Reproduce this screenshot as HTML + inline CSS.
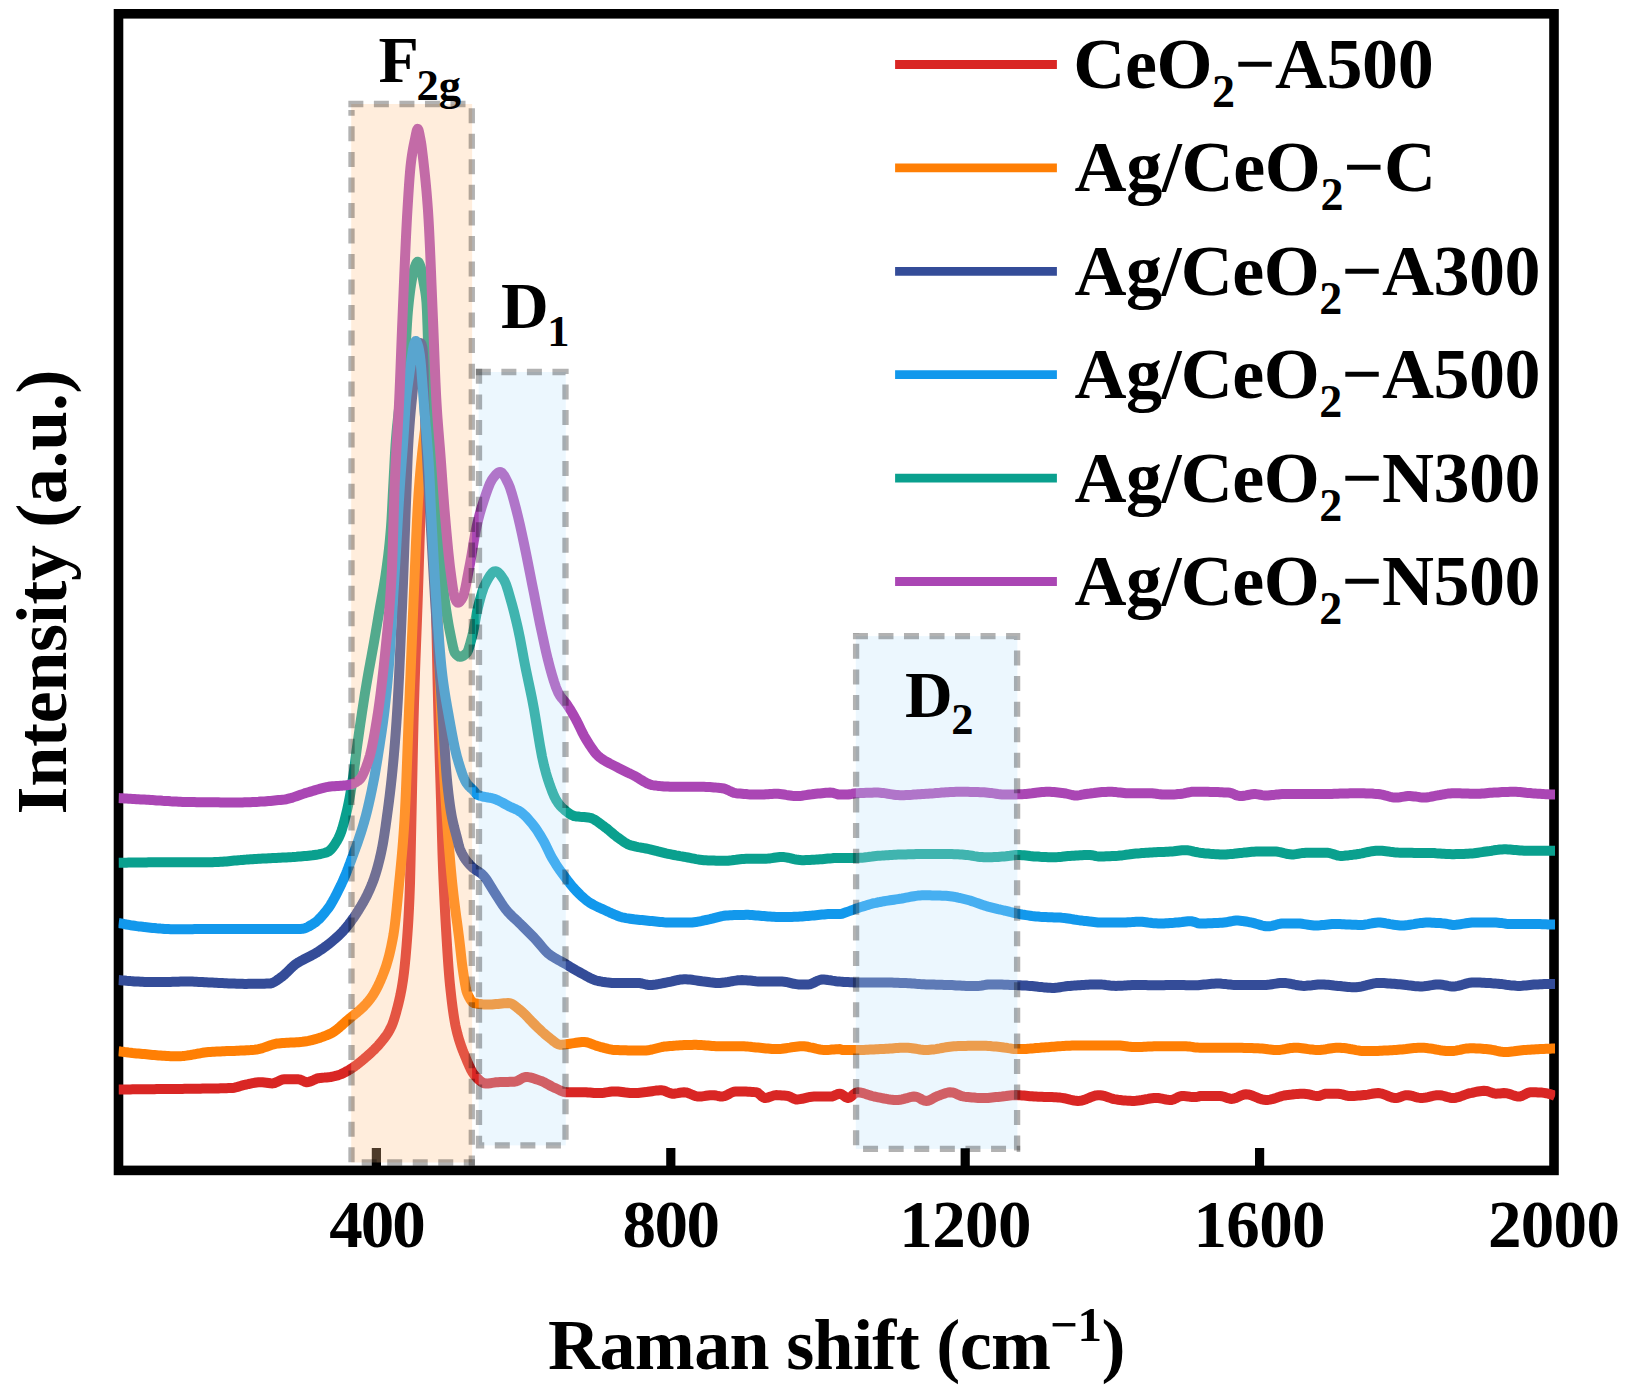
<!DOCTYPE html>
<html lang="en"><head><meta charset="utf-8"><title>Raman spectra</title>
<style>
html,body{margin:0;padding:0;background:#fff;}
body{width:1631px;height:1391px;overflow:hidden;}
svg{display:block;}
text{font-family:"Liberation Serif",serif;font-weight:bold;fill:#000;}
.t{font-size:67px;}
.l{font-size:72px;}
.a{font-size:66px;}
.s{font-size:46px;}
.sa{font-size:44.5px;}
.su{font-size:49px;}
</style></head><body>
<svg width="1631" height="1391" viewBox="0 0 1631 1391">
<rect x="0" y="0" width="1631" height="1391" fill="#fff"/>
<defs><clipPath id="ax"><rect x="118.5" y="13.8" width="1436.7" height="1156.6000000000001"/></clipPath></defs>
<rect x="118.5" y="13.8" width="1435.5" height="1156.6000000000001" fill="none" stroke="#000" stroke-width="9.6" stroke-linejoin="miter"/>
<line x1="376.4" y1="1170.4" x2="376.4" y2="1148" stroke="#000" stroke-width="9.2"/>
<line x1="670.8" y1="1170.4" x2="670.8" y2="1148" stroke="#000" stroke-width="9.2"/>
<line x1="965.2" y1="1170.4" x2="965.2" y2="1148" stroke="#000" stroke-width="9.2"/>
<line x1="1259.6" y1="1170.4" x2="1259.6" y2="1148" stroke="#000" stroke-width="9.2"/>
<g clip-path="url(#ax)" fill="none" stroke-linejoin="round" stroke-linecap="butt">
<path d="M118.5 1089.4 L120.5 1089.4 L122.5 1089.4 L124.5 1089.4 L126.5 1089.4 L128.5 1089.4 L130.5 1089.4 L132.5 1089.3 L134.5 1089.3 L136.5 1089.3 L138.5 1089.3 L140.5 1089.3 L142.5 1089.3 L144.5 1089.3 L146.5 1089.2 L148.5 1089.2 L150.5 1089.2 L152.5 1089.2 L154.5 1089.2 L156.5 1089.1 L158.5 1089.1 L160.5 1089.1 L162.5 1089.1 L164.5 1089.1 L166.5 1089.0 L168.5 1089.0 L170.5 1089.0 L172.5 1089.0 L174.5 1089.0 L176.5 1088.9 L178.5 1088.9 L180.5 1088.9 L182.5 1088.9 L184.5 1088.8 L186.5 1088.8 L188.5 1088.8 L190.5 1088.8 L192.5 1088.7 L194.5 1088.7 L196.5 1088.7 L198.5 1088.7 L200.5 1088.7 L202.5 1088.6 L204.5 1088.6 L206.5 1088.6 L208.5 1088.6 L210.5 1088.5 L212.5 1088.5 L214.5 1088.5 L216.5 1088.4 L218.5 1088.4 L220.5 1088.3 L222.5 1088.3 L224.5 1088.2 L226.5 1088.2 L228.5 1088.1 L230.5 1088.0 L232.5 1087.9 L234.5 1087.7 L236.5 1087.2 L238.5 1086.6 L240.5 1086.0 L242.5 1085.4 L244.5 1084.9 L246.5 1084.5 L248.5 1084.0 L250.5 1083.6 L252.5 1083.2 L254.5 1082.8 L256.5 1082.5 L258.5 1082.3 L260.5 1082.2 L262.5 1082.3 L264.5 1082.5 L266.5 1082.7 L268.5 1083.0 L270.5 1083.3 L272.5 1083.4 L274.5 1083.0 L276.5 1082.2 L278.5 1081.2 L280.5 1080.2 L282.5 1079.5 L284.5 1079.3 L286.5 1079.3 L288.5 1079.3 L290.5 1079.3 L292.5 1079.3 L294.5 1079.3 L296.5 1079.3 L298.5 1079.3 L300.5 1079.7 L302.5 1080.6 L304.5 1081.6 L306.5 1082.2 L308.5 1082.0 L310.5 1081.4 L312.5 1080.6 L314.5 1079.6 L316.5 1078.7 L318.5 1078.2 L320.5 1077.9 L322.5 1077.7 L324.5 1077.6 L326.5 1077.4 L328.5 1077.2 L330.5 1077.0 L332.5 1076.6 L334.5 1076.2 L336.5 1075.7 L338.5 1075.1 L340.5 1074.4 L341.0 1074.2 L341.5 1074.0 L342.0 1073.7 L342.5 1073.5 L343.0 1073.3 L343.5 1073.0 L344.0 1072.8 L344.5 1072.5 L345.0 1072.2 L345.5 1072.0 L346.0 1071.7 L346.5 1071.4 L347.0 1071.1 L347.5 1070.8 L348.0 1070.6 L348.5 1070.3 L349.0 1070.0 L349.5 1069.7 L350.0 1069.4 L350.5 1069.1 L351.0 1068.8 L351.5 1068.4 L352.0 1068.1 L352.5 1067.8 L353.0 1067.5 L353.5 1067.1 L354.0 1066.8 L354.5 1066.4 L355.0 1066.1 L355.5 1065.7 L356.0 1065.3 L356.5 1065.0 L357.0 1064.6 L357.5 1064.2 L358.0 1063.8 L358.5 1063.4 L359.0 1063.0 L359.5 1062.6 L360.0 1062.2 L360.5 1061.8 L361.0 1061.4 L361.5 1061.0 L362.0 1060.6 L362.5 1060.2 L363.0 1059.7 L363.5 1059.3 L364.0 1058.9 L364.5 1058.5 L365.0 1058.0 L365.5 1057.6 L366.0 1057.2 L366.5 1056.7 L367.0 1056.3 L367.5 1055.9 L368.0 1055.4 L368.5 1055.0 L369.0 1054.5 L369.5 1054.1 L370.0 1053.6 L370.5 1053.2 L371.0 1052.7 L371.5 1052.3 L372.0 1051.8 L372.5 1051.3 L373.0 1050.8 L373.5 1050.3 L374.0 1049.9 L374.5 1049.4 L375.0 1048.9 L375.5 1048.3 L376.0 1047.8 L376.5 1047.3 L377.0 1046.8 L377.5 1046.2 L378.0 1045.7 L378.5 1045.1 L379.0 1044.6 L379.5 1044.0 L380.0 1043.4 L380.5 1042.8 L381.0 1042.2 L381.5 1041.6 L382.0 1041.0 L382.5 1040.4 L383.0 1039.8 L383.5 1039.1 L384.0 1038.5 L384.5 1037.8 L385.0 1037.2 L385.5 1036.5 L386.0 1035.8 L386.5 1035.1 L387.0 1034.3 L387.5 1033.6 L388.0 1032.8 L388.5 1032.0 L389.0 1031.1 L389.5 1030.2 L390.0 1029.3 L390.5 1028.3 L391.0 1027.3 L391.5 1026.3 L392.0 1025.1 L392.5 1023.9 L393.0 1022.5 L393.5 1021.1 L394.0 1019.6 L394.5 1018.0 L395.0 1016.3 L395.5 1014.6 L396.0 1012.8 L396.5 1011.0 L397.0 1009.1 L397.5 1007.2 L398.0 1005.2 L398.5 1003.2 L399.0 1001.1 L399.5 999.0 L400.0 996.7 L400.5 994.4 L401.0 991.8 L401.5 989.2 L402.0 986.3 L402.5 983.3 L403.0 980.0 L403.5 976.4 L404.0 972.4 L404.5 968.0 L405.0 963.1 L405.5 957.9 L406.0 952.3 L406.5 946.3 L407.0 939.9 L407.5 933.2 L408.0 925.8 L408.5 917.6 L409.0 908.0 L409.5 896.9 L410.0 883.4 L410.5 863.0 L411.0 838.8 L411.5 815.5 L412.0 792.0 L412.5 767.6 L413.0 743.8 L413.5 722.1 L414.0 703.7 L414.5 687.4 L415.0 672.5 L415.5 658.5 L416.0 645.2 L416.5 632.2 L417.0 619.1 L417.5 605.6 L418.0 591.2 L418.5 575.8 L419.0 559.8 L419.5 543.8 L420.0 528.3 L420.5 514.0 L421.0 501.3 L421.5 490.8 L422.0 482.3 L422.5 474.5 L423.0 467.7 L423.5 462.1 L424.0 458.0 L424.5 454.7 L425.0 451.7 L425.5 449.0 L426.0 446.9 L426.5 445.5 L427.0 445.0 L427.5 445.5 L428.0 446.9 L428.5 449.1 L429.0 451.7 L429.5 454.8 L430.0 458.0 L430.5 461.9 L431.0 467.0 L431.5 473.2 L432.0 480.6 L432.5 489.0 L433.0 499.9 L433.5 514.1 L434.0 531.0 L434.5 549.8 L435.0 569.8 L435.5 590.1 L436.0 610.0 L436.5 630.9 L437.0 653.7 L437.5 676.8 L438.0 698.8 L438.5 718.1 L439.0 735.6 L439.5 751.9 L440.0 767.7 L440.5 783.6 L441.0 800.0 L441.5 817.8 L442.0 836.2 L442.5 853.3 L443.0 867.2 L443.5 879.5 L444.0 890.7 L444.5 901.1 L445.0 910.7 L445.5 919.8 L446.0 928.4 L446.5 936.9 L447.0 945.0 L447.5 952.9 L448.0 960.4 L448.5 967.4 L449.0 973.9 L449.5 979.8 L450.0 985.0 L450.5 989.8 L451.0 994.3 L451.5 998.7 L452.0 1002.8 L452.5 1006.8 L453.0 1010.5 L453.5 1014.0 L454.0 1017.2 L454.5 1020.3 L455.0 1023.1 L455.5 1025.7 L456.0 1028.0 L456.5 1030.2 L457.0 1032.2 L457.5 1034.2 L458.0 1036.0 L458.5 1037.8 L459.0 1039.5 L459.5 1041.2 L460.0 1042.7 L460.5 1044.2 L461.0 1045.7 L461.5 1047.1 L462.0 1048.4 L462.5 1049.8 L463.0 1051.0 L463.5 1052.3 L464.0 1053.5 L464.5 1054.7 L465.0 1056.0 L465.5 1057.2 L466.0 1058.4 L466.5 1059.6 L467.0 1060.8 L467.5 1062.0 L468.0 1063.1 L468.5 1064.3 L469.0 1065.4 L469.5 1066.6 L470.0 1067.6 L470.5 1068.7 L471.0 1069.7 L471.5 1070.6 L472.0 1071.6 L472.5 1072.4 L473.0 1073.2 L473.5 1073.9 L474.0 1074.6 L474.5 1075.1 L475.0 1075.7 L475.5 1076.3 L476.0 1076.8 L476.5 1077.4 L477.0 1077.9 L477.5 1078.4 L478.0 1078.9 L478.5 1079.4 L479.0 1079.9 L479.5 1080.4 L480.0 1080.8 L482.0 1082.3 L484.0 1083.3 L486.0 1083.6 L488.0 1083.5 L490.0 1083.3 L492.0 1082.9 L494.0 1082.6 L496.0 1082.3 L498.0 1082.2 L500.0 1082.1 L502.0 1082.0 L504.0 1082.0 L506.0 1081.9 L508.0 1081.9 L510.0 1081.8 L512.0 1081.8 L514.0 1081.7 L516.0 1081.4 L518.0 1080.6 L520.0 1079.5 L522.0 1078.3 L524.0 1077.4 L526.0 1077.0 L528.0 1077.1 L530.0 1077.4 L532.0 1077.9 L534.0 1078.5 L536.0 1079.2 L538.0 1079.9 L540.0 1080.6 L542.0 1081.3 L544.0 1082.2 L546.0 1083.3 L548.0 1084.4 L550.0 1085.5 L552.0 1086.6 L554.0 1087.6 L556.0 1088.4 L558.0 1089.4 L560.0 1090.4 L562.0 1091.3 L564.0 1091.9 L566.0 1092.3 L568.0 1092.3 L570.0 1092.3 L572.0 1092.3 L574.0 1092.3 L576.0 1092.3 L578.0 1092.3 L580.0 1092.3 L582.0 1092.3 L584.0 1092.3 L586.0 1092.3 L588.0 1092.5 L590.0 1092.6 L592.0 1092.8 L594.0 1093.0 L596.0 1093.1 L598.0 1093.1 L600.0 1093.1 L602.0 1092.9 L604.0 1092.7 L606.0 1092.4 L608.0 1092.1 L610.0 1091.8 L612.0 1091.6 L614.0 1091.4 L616.0 1091.4 L618.0 1091.5 L620.0 1091.7 L622.0 1092.0 L624.0 1092.3 L626.0 1092.6 L628.0 1092.8 L630.0 1093.0 L632.0 1093.1 L634.0 1093.1 L636.0 1093.0 L638.0 1092.9 L640.0 1092.7 L642.0 1092.5 L644.0 1092.3 L646.0 1092.1 L648.0 1091.8 L650.0 1091.5 L652.0 1091.2 L654.0 1090.9 L656.0 1090.6 L658.0 1090.4 L660.0 1090.3 L662.0 1090.3 L664.0 1090.7 L666.0 1091.5 L668.0 1092.4 L670.0 1093.2 L672.0 1093.7 L674.0 1093.7 L676.0 1093.4 L678.0 1093.1 L680.0 1092.7 L682.0 1092.4 L684.0 1092.3 L686.0 1092.4 L688.0 1093.0 L690.0 1093.8 L692.0 1094.7 L694.0 1095.5 L696.0 1096.2 L698.0 1096.6 L700.0 1096.5 L702.0 1096.4 L704.0 1096.1 L706.0 1095.8 L708.0 1095.5 L710.0 1095.3 L712.0 1095.2 L714.0 1095.2 L716.0 1095.5 L718.0 1096.0 L720.0 1096.4 L722.0 1096.6 L724.0 1096.2 L726.0 1095.5 L728.0 1094.5 L730.0 1093.4 L732.0 1092.4 L734.0 1091.7 L736.0 1091.4 L738.0 1091.4 L740.0 1091.4 L742.0 1091.5 L744.0 1091.5 L746.0 1091.6 L748.0 1091.7 L750.0 1091.8 L752.0 1091.9 L754.0 1092.1 L756.0 1092.2 L758.0 1093.0 L760.0 1094.7 L762.0 1096.6 L764.0 1097.9 L766.0 1097.9 L768.0 1097.5 L770.0 1096.8 L772.0 1096.1 L774.0 1095.4 L776.0 1095.1 L778.0 1095.2 L780.0 1095.2 L782.0 1095.4 L784.0 1095.6 L786.0 1095.8 L788.0 1096.0 L790.0 1096.7 L792.0 1097.8 L794.0 1098.8 L796.0 1099.4 L798.0 1099.4 L800.0 1099.1 L802.0 1098.8 L804.0 1098.3 L806.0 1097.8 L808.0 1097.3 L810.0 1096.9 L812.0 1096.7 L814.0 1096.6 L816.0 1096.6 L818.0 1096.6 L820.0 1096.6 L822.0 1096.6 L824.0 1096.6 L826.0 1096.6 L828.0 1096.6 L830.0 1096.6 L832.0 1096.5 L834.0 1095.8 L836.0 1094.8 L838.0 1094.0 L840.0 1093.7 L842.0 1094.5 L844.0 1095.9 L846.0 1097.3 L848.0 1098.0 L850.0 1097.4 L852.0 1095.8 L854.0 1094.0 L856.0 1092.6 L858.0 1092.3 L860.0 1092.5 L862.0 1092.9 L864.0 1093.4 L866.0 1094.1 L868.0 1094.7 L870.0 1095.4 L872.0 1096.0 L874.0 1096.5 L876.0 1096.9 L878.0 1097.3 L880.0 1097.7 L882.0 1098.1 L884.0 1098.5 L886.0 1098.8 L888.0 1099.2 L890.0 1099.5 L892.0 1099.7 L894.0 1099.9 L896.0 1100.0 L898.0 1100.0 L900.0 1099.8 L902.0 1099.4 L904.0 1098.9 L906.0 1098.3 L908.0 1097.8 L910.0 1097.2 L912.0 1096.8 L914.0 1096.6 L916.0 1096.7 L918.0 1097.4 L920.0 1098.4 L922.0 1099.6 L924.0 1100.5 L926.0 1100.9 L928.0 1100.7 L930.0 1100.0 L932.0 1099.0 L934.0 1097.8 L936.0 1096.8 L938.0 1095.9 L940.0 1095.2 L942.0 1094.4 L944.0 1093.7 L946.0 1093.0 L948.0 1092.5 L950.0 1092.3 L952.0 1092.4 L954.0 1092.9 L956.0 1093.7 L958.0 1094.6 L960.0 1095.5 L962.0 1096.2 L964.0 1096.6 L966.0 1096.9 L968.0 1097.1 L970.0 1097.3 L972.0 1097.5 L974.0 1097.6 L976.0 1097.8 L978.0 1097.9 L980.0 1098.0 L982.0 1098.0 L984.0 1098.0 L986.0 1098.0 L988.0 1097.9 L990.0 1097.7 L992.0 1097.5 L994.0 1097.3 L996.0 1097.1 L998.0 1096.9 L1000.0 1096.7 L1002.0 1096.5 L1004.0 1096.2 L1006.0 1096.0 L1008.0 1095.7 L1010.0 1095.5 L1012.0 1095.3 L1014.0 1095.2 L1016.0 1095.1 L1018.0 1095.2 L1020.0 1095.3 L1022.0 1095.4 L1024.0 1095.6 L1026.0 1095.8 L1028.0 1096.0 L1030.0 1096.2 L1032.0 1096.3 L1034.0 1096.5 L1036.0 1096.6 L1038.0 1096.7 L1040.0 1096.8 L1042.0 1096.8 L1044.0 1096.9 L1046.0 1096.9 L1048.0 1097.0 L1050.0 1097.1 L1052.0 1097.1 L1054.0 1097.2 L1056.0 1097.3 L1058.0 1097.4 L1060.0 1097.6 L1062.0 1097.9 L1064.0 1098.2 L1066.0 1098.7 L1068.0 1099.2 L1070.0 1099.7 L1072.0 1100.1 L1074.0 1100.5 L1076.0 1100.7 L1078.0 1100.9 L1080.0 1100.8 L1082.0 1100.5 L1084.0 1099.9 L1086.0 1099.2 L1088.0 1098.3 L1090.0 1097.5 L1092.0 1096.7 L1094.0 1096.0 L1096.0 1095.4 L1098.0 1095.2 L1100.0 1095.2 L1102.0 1095.5 L1104.0 1095.9 L1106.0 1096.5 L1108.0 1097.2 L1110.0 1097.9 L1112.0 1098.6 L1114.0 1099.1 L1116.0 1099.4 L1118.0 1099.7 L1120.0 1099.9 L1122.0 1100.2 L1124.0 1100.4 L1126.0 1100.6 L1128.0 1100.7 L1130.0 1100.8 L1132.0 1100.9 L1134.0 1100.9 L1136.0 1100.8 L1138.0 1100.6 L1140.0 1100.3 L1142.0 1100.0 L1144.0 1099.6 L1146.0 1099.2 L1148.0 1098.9 L1150.0 1098.5 L1152.0 1098.3 L1154.0 1098.1 L1156.0 1098.0 L1158.0 1098.1 L1160.0 1098.3 L1162.0 1098.7 L1164.0 1099.1 L1166.0 1099.5 L1168.0 1099.8 L1170.0 1100.0 L1172.0 1099.9 L1174.0 1099.2 L1176.0 1098.3 L1178.0 1097.2 L1180.0 1096.4 L1182.0 1096.0 L1184.0 1096.1 L1186.0 1096.2 L1188.0 1096.4 L1190.0 1096.7 L1192.0 1096.9 L1194.0 1097.1 L1196.0 1097.1 L1198.0 1096.7 L1200.0 1096.0 L1202.0 1096.0 L1204.0 1096.0 L1206.0 1096.0 L1208.0 1096.0 L1210.0 1096.0 L1212.0 1096.0 L1214.0 1096.0 L1216.0 1096.0 L1218.0 1096.0 L1220.0 1096.0 L1222.0 1096.2 L1224.0 1096.8 L1226.0 1097.5 L1228.0 1098.2 L1230.0 1098.7 L1232.0 1098.9 L1234.0 1098.5 L1236.0 1097.9 L1238.0 1097.0 L1240.0 1096.0 L1242.0 1095.2 L1244.0 1094.5 L1246.0 1094.3 L1248.0 1094.4 L1250.0 1094.9 L1252.0 1095.5 L1254.0 1096.3 L1256.0 1097.1 L1258.0 1098.0 L1260.0 1098.8 L1262.0 1099.4 L1264.0 1099.8 L1266.0 1100.0 L1268.0 1099.9 L1270.0 1099.6 L1272.0 1099.2 L1274.0 1098.6 L1276.0 1098.0 L1278.0 1097.3 L1280.0 1096.6 L1282.0 1096.0 L1284.0 1095.5 L1286.0 1095.2 L1288.0 1094.9 L1290.0 1094.7 L1292.0 1094.5 L1294.0 1094.2 L1296.0 1094.1 L1298.0 1093.9 L1300.0 1093.8 L1302.0 1093.7 L1304.0 1093.7 L1306.0 1093.9 L1308.0 1094.2 L1310.0 1094.7 L1312.0 1095.2 L1314.0 1095.6 L1316.0 1095.9 L1318.0 1096.0 L1320.0 1095.7 L1322.0 1094.9 L1324.0 1094.2 L1326.0 1093.7 L1328.0 1093.7 L1330.0 1093.7 L1332.0 1093.7 L1334.0 1093.7 L1336.0 1093.7 L1338.0 1093.7 L1340.0 1093.9 L1342.0 1094.3 L1344.0 1094.9 L1346.0 1095.5 L1348.0 1095.9 L1350.0 1096.0 L1352.0 1096.0 L1354.0 1095.9 L1356.0 1095.8 L1358.0 1095.6 L1360.0 1095.5 L1362.0 1095.3 L1364.0 1095.1 L1366.0 1094.9 L1368.0 1094.6 L1370.0 1094.2 L1372.0 1093.8 L1374.0 1093.5 L1376.0 1093.2 L1378.0 1093.1 L1380.0 1093.3 L1382.0 1093.7 L1384.0 1094.4 L1386.0 1095.2 L1388.0 1096.0 L1390.0 1096.8 L1392.0 1097.5 L1394.0 1097.9 L1396.0 1098.0 L1398.0 1097.7 L1400.0 1097.1 L1402.0 1096.3 L1404.0 1095.6 L1406.0 1095.2 L1408.0 1095.2 L1410.0 1095.5 L1412.0 1095.9 L1414.0 1096.5 L1416.0 1097.1 L1418.0 1097.6 L1420.0 1097.9 L1422.0 1098.0 L1424.0 1097.8 L1426.0 1097.5 L1428.0 1097.1 L1430.0 1096.6 L1432.0 1096.1 L1434.0 1095.7 L1436.0 1095.3 L1438.0 1095.2 L1440.0 1095.2 L1442.0 1095.5 L1444.0 1096.0 L1446.0 1096.6 L1448.0 1097.2 L1450.0 1097.7 L1452.0 1098.0 L1454.0 1098.0 L1456.0 1097.7 L1458.0 1097.2 L1460.0 1096.6 L1462.0 1095.9 L1464.0 1095.1 L1466.0 1094.4 L1468.0 1093.7 L1470.0 1093.2 L1472.0 1092.8 L1474.0 1092.3 L1476.0 1091.9 L1478.0 1091.5 L1480.0 1091.2 L1482.0 1091.0 L1484.0 1090.8 L1486.0 1090.9 L1488.0 1091.4 L1490.0 1092.1 L1492.0 1092.8 L1494.0 1093.4 L1496.0 1093.7 L1498.0 1093.6 L1500.0 1093.5 L1502.0 1093.3 L1504.0 1093.1 L1506.0 1093.2 L1508.0 1093.6 L1510.0 1094.1 L1512.0 1094.9 L1514.0 1095.6 L1516.0 1096.1 L1518.0 1096.5 L1520.0 1096.5 L1522.0 1095.9 L1524.0 1094.9 L1526.0 1093.8 L1528.0 1092.9 L1530.0 1092.3 L1532.0 1092.3 L1534.0 1092.3 L1536.0 1092.3 L1538.0 1092.4 L1540.0 1092.5 L1542.0 1092.6 L1544.0 1092.9 L1546.0 1093.2 L1548.0 1093.6 L1550.0 1094.1 L1552.0 1094.7 L1554.0 1095.5 L1555.1 1096.0" stroke="#D92624" stroke-width="10.0"/>
<path d="M118.5 1051.2 L120.5 1051.5 L122.5 1051.7 L124.5 1052.0 L126.5 1052.2 L128.5 1052.5 L130.5 1052.7 L132.5 1053.0 L134.5 1053.2 L136.5 1053.4 L138.5 1053.6 L140.5 1053.8 L142.5 1054.0 L144.5 1054.1 L146.5 1054.3 L148.5 1054.5 L150.5 1054.7 L152.5 1054.9 L154.5 1055.0 L156.5 1055.2 L158.5 1055.4 L160.5 1055.5 L162.5 1055.7 L164.5 1055.8 L166.5 1056.0 L168.5 1056.1 L170.5 1056.2 L172.5 1056.2 L174.5 1056.3 L176.5 1056.3 L178.5 1056.3 L180.5 1056.2 L182.5 1056.1 L184.5 1055.9 L186.5 1055.6 L188.5 1055.3 L190.5 1055.0 L192.5 1054.6 L194.5 1054.3 L196.5 1053.9 L198.5 1053.5 L200.5 1053.2 L202.5 1052.8 L204.5 1052.5 L206.5 1052.3 L208.5 1052.1 L210.5 1051.9 L212.5 1051.8 L214.5 1051.7 L216.5 1051.6 L218.5 1051.5 L220.5 1051.4 L222.5 1051.3 L224.5 1051.2 L226.5 1051.1 L228.5 1051.1 L230.5 1051.0 L232.5 1050.9 L234.5 1050.9 L236.5 1050.8 L238.5 1050.7 L240.5 1050.6 L242.5 1050.6 L244.5 1050.5 L246.5 1050.3 L248.5 1050.2 L250.5 1050.1 L252.5 1049.9 L254.5 1049.8 L256.5 1049.6 L258.5 1049.2 L260.5 1048.7 L262.5 1048.1 L264.5 1047.4 L266.5 1046.7 L268.5 1046.0 L270.5 1045.3 L272.5 1044.6 L274.5 1044.1 L276.5 1043.6 L278.5 1043.4 L280.5 1043.2 L282.5 1043.0 L284.5 1042.9 L286.5 1042.8 L288.5 1042.7 L290.5 1042.6 L292.5 1042.5 L294.5 1042.4 L296.5 1042.3 L298.5 1042.2 L300.5 1042.0 L302.5 1041.8 L304.5 1041.5 L306.5 1041.2 L308.5 1040.9 L310.5 1040.4 L312.5 1040.0 L314.5 1039.4 L316.5 1038.9 L318.5 1038.2 L320.5 1037.6 L322.5 1036.9 L324.5 1036.1 L326.5 1035.4 L328.5 1034.5 L330.5 1033.7 L332.5 1032.6 L334.5 1031.3 L336.5 1029.8 L338.5 1028.2 L340.5 1026.4 L341.0 1026.0 L341.5 1025.5 L342.0 1025.1 L342.5 1024.6 L343.0 1024.2 L343.5 1023.7 L344.0 1023.3 L344.5 1022.8 L345.0 1022.4 L345.5 1021.9 L346.0 1021.5 L346.5 1021.1 L347.0 1020.6 L347.5 1020.2 L348.0 1019.8 L348.5 1019.4 L349.0 1019.0 L349.5 1018.5 L350.0 1018.1 L350.5 1017.7 L351.0 1017.3 L351.5 1016.9 L352.0 1016.5 L352.5 1016.1 L353.0 1015.7 L353.5 1015.3 L354.0 1014.9 L354.5 1014.5 L355.0 1014.1 L355.5 1013.7 L356.0 1013.3 L356.5 1012.9 L357.0 1012.5 L357.5 1012.0 L358.0 1011.6 L358.5 1011.2 L359.0 1010.8 L359.5 1010.3 L360.0 1009.9 L360.5 1009.4 L361.0 1009.0 L361.5 1008.5 L362.0 1008.0 L362.5 1007.6 L363.0 1007.1 L363.5 1006.6 L364.0 1006.1 L364.5 1005.6 L365.0 1005.0 L365.5 1004.5 L366.0 1004.0 L366.5 1003.4 L367.0 1002.9 L367.5 1002.3 L368.0 1001.7 L368.5 1001.1 L369.0 1000.5 L369.5 999.9 L370.0 999.2 L370.5 998.6 L371.0 997.9 L371.5 997.2 L372.0 996.5 L372.5 995.7 L373.0 995.0 L373.5 994.2 L374.0 993.3 L374.5 992.5 L375.0 991.7 L375.5 990.8 L376.0 989.9 L376.5 988.9 L377.0 988.0 L377.5 987.0 L378.0 986.0 L378.5 985.0 L379.0 983.9 L379.5 982.8 L380.0 981.7 L380.5 980.6 L381.0 979.4 L381.5 978.2 L382.0 977.0 L382.5 975.8 L383.0 974.5 L383.5 973.2 L384.0 971.9 L384.5 970.6 L385.0 969.2 L385.5 967.8 L386.0 966.3 L386.5 964.7 L387.0 963.1 L387.5 961.4 L388.0 959.7 L388.5 957.9 L389.0 956.0 L389.5 954.0 L390.0 951.9 L390.5 949.7 L391.0 947.5 L391.5 945.1 L392.0 942.6 L392.5 940.0 L393.0 937.3 L393.5 934.5 L394.0 931.2 L394.5 927.6 L395.0 923.6 L395.5 919.3 L396.0 914.7 L396.5 909.9 L397.0 905.0 L397.5 899.9 L398.0 894.8 L398.5 889.6 L399.0 884.4 L399.5 879.4 L400.0 874.4 L400.5 869.3 L401.0 864.2 L401.5 858.9 L402.0 853.4 L402.5 847.6 L403.0 841.4 L403.5 834.8 L404.0 827.7 L404.5 820.0 L405.0 811.1 L405.5 800.7 L406.0 789.1 L406.5 776.5 L407.0 763.3 L407.5 749.8 L408.0 736.4 L408.5 723.2 L409.0 710.7 L409.5 698.6 L410.0 686.4 L410.5 674.2 L411.0 662.0 L411.5 649.8 L412.0 637.8 L412.5 625.8 L413.0 614.0 L413.5 602.3 L414.0 590.6 L414.5 578.6 L415.0 566.4 L415.5 554.3 L416.0 542.5 L416.5 531.1 L417.0 520.5 L417.5 510.8 L418.0 502.2 L418.5 494.7 L419.0 487.7 L419.5 481.3 L420.0 475.4 L420.5 469.8 L421.0 464.5 L421.5 459.5 L422.0 454.6 L422.5 450.0 L423.0 445.6 L423.5 441.4 L424.0 437.4 L424.5 433.5 L425.0 429.7 L425.5 426.0 L426.0 421.9 L426.5 417.3 L427.0 413.2 L427.5 410.2 L428.0 409.0 L428.5 410.0 L429.0 412.6 L429.5 416.5 L430.0 421.1 L430.5 426.0 L431.0 432.0 L431.5 439.7 L432.0 448.9 L432.5 459.2 L433.0 470.0 L433.5 482.2 L434.0 496.4 L434.5 512.0 L435.0 528.2 L435.5 544.4 L436.0 560.0 L436.5 575.4 L437.0 591.3 L437.5 607.4 L438.0 623.7 L438.5 639.8 L439.0 655.6 L439.5 670.8 L440.0 685.2 L440.5 698.6 L441.0 710.7 L441.5 721.9 L442.0 732.7 L442.5 743.0 L443.0 753.0 L443.5 762.5 L444.0 771.7 L444.5 780.5 L445.0 789.0 L445.5 797.2 L446.0 805.1 L446.5 812.7 L447.0 820.0 L447.5 827.1 L448.0 834.0 L448.5 840.6 L449.0 847.0 L449.5 853.2 L450.0 859.2 L450.5 864.9 L451.0 870.5 L451.5 875.8 L452.0 880.9 L452.5 885.7 L453.0 890.4 L453.5 894.8 L454.0 899.0 L454.5 903.1 L455.0 907.0 L455.5 910.8 L456.0 914.6 L456.5 918.3 L457.0 922.0 L457.5 925.7 L458.0 929.5 L458.5 933.3 L459.0 937.2 L459.5 941.3 L460.0 945.6 L460.5 950.1 L461.0 954.7 L461.5 959.2 L462.0 963.5 L462.5 967.4 L463.0 970.9 L463.5 974.2 L464.0 977.5 L464.5 980.7 L465.0 983.7 L465.5 986.4 L466.0 988.9 L466.5 991.0 L467.0 992.6 L467.5 993.8 L468.0 994.9 L468.5 995.9 L469.0 996.9 L469.5 997.9 L470.0 998.8 L470.5 999.6 L471.0 1000.3 L471.5 1001.0 L472.0 1001.6 L472.5 1002.1 L473.0 1002.5 L473.5 1002.8 L474.0 1003.0 L474.5 1003.1 L475.0 1003.2 L475.5 1003.3 L476.0 1003.4 L476.5 1003.5 L477.0 1003.6 L477.5 1003.7 L478.0 1003.8 L478.5 1003.8 L479.0 1003.9 L479.5 1004.0 L480.0 1004.0 L482.0 1004.3 L484.0 1004.4 L486.0 1004.5 L488.0 1004.6 L490.0 1004.5 L492.0 1004.5 L494.0 1004.3 L496.0 1004.1 L498.0 1003.9 L500.0 1003.7 L502.0 1003.5 L504.0 1003.3 L506.0 1003.2 L508.0 1003.1 L510.0 1003.2 L512.0 1003.9 L514.0 1005.2 L516.0 1006.7 L518.0 1008.4 L520.0 1010.0 L522.0 1011.6 L524.0 1013.5 L526.0 1015.5 L528.0 1017.6 L530.0 1019.8 L532.0 1021.9 L534.0 1023.9 L536.0 1025.9 L538.0 1027.8 L540.0 1029.7 L542.0 1031.6 L544.0 1033.4 L546.0 1035.1 L548.0 1036.8 L550.0 1038.3 L552.0 1039.9 L554.0 1041.6 L556.0 1043.1 L558.0 1044.2 L560.0 1044.8 L562.0 1044.8 L564.0 1044.6 L566.0 1044.3 L568.0 1044.0 L570.0 1043.7 L572.0 1043.4 L574.0 1043.1 L576.0 1042.8 L578.0 1042.5 L580.0 1042.2 L582.0 1042.0 L584.0 1041.9 L586.0 1042.2 L588.0 1042.7 L590.0 1043.3 L592.0 1044.1 L594.0 1044.9 L596.0 1045.6 L598.0 1046.2 L600.0 1046.8 L602.0 1047.3 L604.0 1047.9 L606.0 1048.4 L608.0 1048.9 L610.0 1049.3 L612.0 1049.7 L614.0 1049.9 L616.0 1050.0 L618.0 1050.1 L620.0 1050.2 L622.0 1050.2 L624.0 1050.3 L626.0 1050.3 L628.0 1050.4 L630.0 1050.4 L632.0 1050.5 L634.0 1050.5 L636.0 1050.5 L638.0 1050.5 L640.0 1050.6 L642.0 1050.6 L644.0 1050.6 L646.0 1050.5 L648.0 1050.3 L650.0 1049.9 L652.0 1049.5 L654.0 1049.0 L656.0 1048.5 L658.0 1048.0 L660.0 1047.5 L662.0 1047.0 L664.0 1046.6 L666.0 1046.4 L668.0 1046.2 L670.0 1046.0 L672.0 1045.9 L674.0 1045.7 L676.0 1045.6 L678.0 1045.4 L680.0 1045.3 L682.0 1045.2 L684.0 1045.1 L686.0 1045.0 L688.0 1045.0 L690.0 1044.9 L692.0 1044.9 L694.0 1044.8 L696.0 1044.8 L698.0 1044.9 L700.0 1044.9 L702.0 1045.1 L704.0 1045.2 L706.0 1045.4 L708.0 1045.6 L710.0 1045.8 L712.0 1046.0 L714.0 1046.1 L716.0 1046.2 L718.0 1046.2 L720.0 1046.3 L722.0 1046.3 L724.0 1046.3 L726.0 1046.3 L728.0 1046.3 L730.0 1046.3 L732.0 1046.3 L734.0 1046.3 L736.0 1046.3 L738.0 1046.3 L740.0 1046.3 L742.0 1046.3 L744.0 1046.3 L746.0 1046.4 L748.0 1046.6 L750.0 1046.7 L752.0 1047.0 L754.0 1047.2 L756.0 1047.4 L758.0 1047.6 L760.0 1047.8 L762.0 1048.0 L764.0 1048.2 L766.0 1048.4 L768.0 1048.6 L770.0 1048.8 L772.0 1049.0 L774.0 1049.1 L776.0 1049.1 L778.0 1049.1 L780.0 1049.0 L782.0 1048.8 L784.0 1048.5 L786.0 1048.2 L788.0 1047.9 L790.0 1047.6 L792.0 1047.2 L794.0 1046.9 L796.0 1046.7 L798.0 1046.5 L800.0 1046.3 L802.0 1046.3 L804.0 1046.3 L806.0 1046.5 L808.0 1046.8 L810.0 1047.3 L812.0 1047.7 L814.0 1048.2 L816.0 1048.7 L818.0 1049.1 L820.0 1049.5 L822.0 1049.8 L824.0 1050.0 L826.0 1050.0 L828.0 1049.9 L830.0 1049.8 L832.0 1049.6 L834.0 1049.4 L836.0 1049.3 L838.0 1049.2 L840.0 1049.1 L842.0 1049.9 L844.0 1050.0 L846.0 1050.0 L848.0 1050.0 L850.0 1050.0 L852.0 1050.0 L854.0 1050.0 L856.0 1050.0 L858.0 1050.0 L860.0 1050.0 L862.0 1049.9 L864.0 1049.9 L866.0 1049.8 L868.0 1049.7 L870.0 1049.6 L872.0 1049.5 L874.0 1049.4 L876.0 1049.3 L878.0 1049.2 L880.0 1049.1 L882.0 1049.0 L884.0 1048.9 L886.0 1048.8 L888.0 1048.7 L890.0 1048.5 L892.0 1048.4 L894.0 1048.2 L896.0 1048.1 L898.0 1048.0 L900.0 1047.8 L902.0 1047.8 L904.0 1047.7 L906.0 1047.7 L908.0 1047.7 L910.0 1047.9 L912.0 1048.2 L914.0 1048.5 L916.0 1048.8 L918.0 1049.1 L920.0 1049.5 L922.0 1049.7 L924.0 1049.9 L926.0 1050.0 L928.0 1050.0 L930.0 1049.8 L932.0 1049.6 L934.0 1049.4 L936.0 1049.1 L938.0 1048.7 L940.0 1048.4 L942.0 1048.0 L944.0 1047.6 L946.0 1047.3 L948.0 1047.0 L950.0 1046.7 L952.0 1046.5 L954.0 1046.3 L956.0 1046.2 L958.0 1046.1 L960.0 1046.1 L962.0 1046.0 L964.0 1046.0 L966.0 1045.9 L968.0 1045.8 L970.0 1045.8 L972.0 1045.8 L974.0 1045.7 L976.0 1045.7 L978.0 1045.7 L980.0 1045.7 L982.0 1045.7 L984.0 1045.7 L986.0 1045.8 L988.0 1045.9 L990.0 1046.1 L992.0 1046.3 L994.0 1046.4 L996.0 1046.6 L998.0 1046.8 L1000.0 1047.0 L1002.0 1047.2 L1004.0 1047.5 L1006.0 1047.7 L1008.0 1048.1 L1010.0 1048.4 L1012.0 1048.7 L1014.0 1048.9 L1016.0 1049.1 L1018.0 1049.1 L1020.0 1049.1 L1022.0 1049.1 L1024.0 1049.0 L1026.0 1048.9 L1028.0 1048.7 L1030.0 1048.6 L1032.0 1048.4 L1034.0 1048.3 L1036.0 1048.1 L1038.0 1047.9 L1040.0 1047.8 L1042.0 1047.6 L1044.0 1047.5 L1046.0 1047.3 L1048.0 1047.2 L1050.0 1047.0 L1052.0 1046.8 L1054.0 1046.7 L1056.0 1046.5 L1058.0 1046.3 L1060.0 1046.2 L1062.0 1046.1 L1064.0 1045.9 L1066.0 1045.8 L1068.0 1045.7 L1070.0 1045.7 L1072.0 1045.6 L1074.0 1045.6 L1076.0 1045.6 L1078.0 1045.5 L1080.0 1045.5 L1082.0 1045.5 L1084.0 1045.4 L1086.0 1045.4 L1088.0 1045.4 L1090.0 1045.4 L1092.0 1045.4 L1094.0 1045.4 L1096.0 1045.4 L1098.0 1045.4 L1100.0 1045.4 L1102.0 1045.4 L1104.0 1045.4 L1106.0 1045.4 L1108.0 1045.4 L1110.0 1045.4 L1112.0 1045.4 L1114.0 1045.4 L1116.0 1045.4 L1118.0 1045.4 L1120.0 1045.6 L1122.0 1045.8 L1124.0 1046.0 L1126.0 1046.2 L1128.0 1046.5 L1130.0 1046.7 L1132.0 1046.9 L1134.0 1047.1 L1136.0 1047.1 L1138.0 1047.1 L1140.0 1047.0 L1142.0 1046.9 L1144.0 1046.8 L1146.0 1046.7 L1148.0 1046.6 L1150.0 1046.5 L1152.0 1046.4 L1154.0 1046.3 L1156.0 1046.3 L1158.0 1046.3 L1160.0 1046.3 L1162.0 1046.3 L1164.0 1046.3 L1166.0 1046.3 L1168.0 1046.3 L1170.0 1046.3 L1172.0 1046.3 L1174.0 1046.3 L1176.0 1046.3 L1178.0 1046.3 L1180.0 1046.3 L1182.0 1046.3 L1184.0 1046.3 L1186.0 1046.3 L1188.0 1046.4 L1190.0 1046.6 L1192.0 1046.9 L1194.0 1047.2 L1196.0 1047.4 L1198.0 1047.6 L1200.0 1047.7 L1202.0 1047.7 L1204.0 1047.7 L1206.0 1047.7 L1208.0 1047.7 L1210.0 1047.7 L1212.0 1047.7 L1214.0 1047.7 L1216.0 1047.7 L1218.0 1047.7 L1220.0 1047.7 L1222.0 1047.7 L1224.0 1047.7 L1226.0 1047.7 L1228.0 1047.7 L1230.0 1047.7 L1232.0 1047.7 L1234.0 1047.7 L1236.0 1047.7 L1238.0 1047.8 L1240.0 1047.8 L1242.0 1047.8 L1244.0 1047.9 L1246.0 1047.9 L1248.0 1048.0 L1250.0 1048.0 L1252.0 1048.1 L1254.0 1048.2 L1256.0 1048.2 L1258.0 1048.3 L1260.0 1048.4 L1262.0 1048.6 L1264.0 1048.8 L1266.0 1049.0 L1268.0 1049.3 L1270.0 1049.5 L1272.0 1049.7 L1274.0 1049.9 L1276.0 1050.0 L1278.0 1050.0 L1280.0 1049.9 L1282.0 1049.6 L1284.0 1049.3 L1286.0 1048.9 L1288.0 1048.5 L1290.0 1048.1 L1292.0 1047.9 L1294.0 1047.7 L1296.0 1047.7 L1298.0 1047.8 L1300.0 1048.0 L1302.0 1048.2 L1304.0 1048.5 L1306.0 1048.8 L1308.0 1049.1 L1310.0 1049.4 L1312.0 1049.6 L1314.0 1049.8 L1316.0 1049.9 L1318.0 1050.0 L1320.0 1049.9 L1322.0 1049.7 L1324.0 1049.5 L1326.0 1049.2 L1328.0 1048.8 L1330.0 1048.5 L1332.0 1048.2 L1334.0 1047.9 L1336.0 1047.8 L1338.0 1047.7 L1340.0 1047.7 L1342.0 1047.9 L1344.0 1048.1 L1346.0 1048.3 L1348.0 1048.6 L1350.0 1049.0 L1352.0 1049.3 L1354.0 1049.7 L1356.0 1050.1 L1358.0 1050.4 L1360.0 1050.7 L1362.0 1050.9 L1364.0 1051.1 L1366.0 1051.1 L1368.0 1051.1 L1370.0 1051.1 L1372.0 1051.1 L1374.0 1051.0 L1376.0 1051.0 L1378.0 1050.9 L1380.0 1050.8 L1382.0 1050.7 L1384.0 1050.6 L1386.0 1050.5 L1388.0 1050.4 L1390.0 1050.3 L1392.0 1050.2 L1394.0 1050.1 L1396.0 1050.0 L1398.0 1049.8 L1400.0 1049.6 L1402.0 1049.4 L1404.0 1049.2 L1406.0 1049.0 L1408.0 1048.7 L1410.0 1048.5 L1412.0 1048.3 L1414.0 1048.1 L1416.0 1047.9 L1418.0 1047.8 L1420.0 1047.7 L1422.0 1047.7 L1424.0 1047.8 L1426.0 1047.9 L1428.0 1048.2 L1430.0 1048.4 L1432.0 1048.7 L1434.0 1049.1 L1436.0 1049.5 L1438.0 1049.8 L1440.0 1050.2 L1442.0 1050.5 L1444.0 1050.7 L1446.0 1050.9 L1448.0 1051.1 L1450.0 1051.1 L1452.0 1051.1 L1454.0 1050.9 L1456.0 1050.6 L1458.0 1050.2 L1460.0 1049.8 L1462.0 1049.3 L1464.0 1048.9 L1466.0 1048.6 L1468.0 1048.4 L1470.0 1048.3 L1472.0 1048.3 L1474.0 1048.3 L1476.0 1048.4 L1478.0 1048.5 L1480.0 1048.6 L1482.0 1048.7 L1484.0 1048.9 L1486.0 1049.0 L1488.0 1049.2 L1490.0 1049.4 L1492.0 1049.8 L1494.0 1050.2 L1496.0 1050.7 L1498.0 1051.1 L1500.0 1051.5 L1502.0 1051.8 L1504.0 1052.0 L1506.0 1052.0 L1508.0 1051.9 L1510.0 1051.7 L1512.0 1051.5 L1514.0 1051.3 L1516.0 1051.0 L1518.0 1050.7 L1520.0 1050.5 L1522.0 1050.3 L1524.0 1050.1 L1526.0 1049.9 L1528.0 1049.8 L1530.0 1049.7 L1532.0 1049.5 L1534.0 1049.4 L1536.0 1049.3 L1538.0 1049.2 L1540.0 1049.1 L1542.0 1049.0 L1544.0 1048.9 L1546.0 1048.8 L1548.0 1048.7 L1550.0 1048.7 L1552.0 1048.6 L1554.0 1048.6 L1555.1 1048.6" stroke="#FF7F04" stroke-width="10.0"/>
<path d="M118.5 862.8 L120.5 862.8 L122.5 862.7 L124.5 862.7 L126.5 862.7 L128.5 862.6 L130.5 862.6 L132.5 862.6 L134.5 862.5 L136.5 862.5 L138.5 862.5 L140.5 862.4 L142.5 862.4 L144.5 862.4 L146.5 862.4 L148.5 862.3 L150.5 862.3 L152.5 862.3 L154.5 862.3 L156.5 862.3 L158.5 862.2 L160.5 862.2 L162.5 862.2 L164.5 862.2 L166.5 862.2 L168.5 862.2 L170.5 862.2 L172.5 862.2 L174.5 862.2 L176.5 862.2 L178.5 862.2 L180.5 862.2 L182.5 862.2 L184.5 862.2 L186.5 862.2 L188.5 862.2 L190.5 862.2 L192.5 862.2 L194.5 862.2 L196.5 862.2 L198.5 862.2 L200.5 862.2 L202.5 862.2 L204.5 862.2 L206.5 862.2 L208.5 862.2 L210.5 862.2 L212.5 862.2 L214.5 862.1 L216.5 862.0 L218.5 861.9 L220.5 861.8 L222.5 861.7 L224.5 861.5 L226.5 861.4 L228.5 861.2 L230.5 861.0 L232.5 860.8 L234.5 860.6 L236.5 860.4 L238.5 860.2 L240.5 860.1 L242.5 859.9 L244.5 859.7 L246.5 859.6 L248.5 859.4 L250.5 859.3 L252.5 859.2 L254.5 859.0 L256.5 858.9 L258.5 858.8 L260.5 858.7 L262.5 858.6 L264.5 858.5 L266.5 858.4 L268.5 858.3 L270.5 858.2 L272.5 858.1 L274.5 858.0 L276.5 857.9 L278.5 857.8 L280.5 857.7 L282.5 857.6 L284.5 857.5 L286.5 857.4 L288.5 857.3 L290.5 857.2 L292.5 857.1 L294.5 856.9 L296.5 856.8 L298.5 856.6 L300.5 856.5 L302.5 856.3 L304.5 856.1 L306.5 855.9 L308.5 855.7 L310.5 855.5 L312.5 855.3 L314.5 855.0 L316.5 854.7 L318.5 854.4 L320.5 854.0 L322.5 853.5 L324.5 853.0 L326.5 852.4 L328.5 851.5 L330.5 849.9 L332.5 847.7 L334.5 844.9 L336.5 841.7 L338.5 838.1 L340.5 833.6 L341.0 832.3 L341.5 830.8 L342.0 829.3 L342.5 827.6 L343.0 825.9 L343.5 824.2 L344.0 822.3 L344.5 820.4 L345.0 818.5 L345.5 816.5 L346.0 814.5 L346.5 812.4 L347.0 810.3 L347.5 808.2 L348.0 805.9 L348.5 803.5 L349.0 801.0 L349.5 798.4 L350.0 795.6 L350.5 792.8 L351.0 789.8 L351.5 786.8 L352.0 783.7 L352.5 780.6 L353.0 777.4 L353.5 774.0 L354.0 770.4 L354.5 766.7 L355.0 762.8 L355.5 758.8 L356.0 754.8 L356.5 750.9 L357.0 747.2 L357.5 743.6 L358.0 740.0 L358.5 736.5 L359.0 733.0 L359.5 729.5 L360.0 726.1 L360.5 722.6 L361.0 719.2 L361.5 715.9 L362.0 712.5 L362.5 709.2 L363.0 705.9 L363.5 702.7 L364.0 699.5 L364.5 696.3 L365.0 693.1 L365.5 690.0 L366.0 687.0 L366.5 684.0 L367.0 681.1 L367.5 678.2 L368.0 675.3 L368.5 672.5 L369.0 669.7 L369.5 667.0 L370.0 664.3 L370.5 661.5 L371.0 658.8 L371.5 656.1 L372.0 653.4 L372.5 650.6 L373.0 647.9 L373.5 645.1 L374.0 642.3 L374.5 639.4 L375.0 636.5 L375.5 633.6 L376.0 630.7 L376.5 627.7 L377.0 624.8 L377.5 621.8 L378.0 618.9 L378.5 615.9 L379.0 612.9 L379.5 610.0 L380.0 607.1 L380.5 604.3 L381.0 601.6 L381.5 598.8 L382.0 596.1 L382.5 593.4 L383.0 590.7 L383.5 587.8 L384.0 584.9 L384.5 581.9 L385.0 578.8 L385.5 575.5 L386.0 572.0 L386.5 568.4 L387.0 564.8 L387.5 561.0 L388.0 557.0 L388.5 552.9 L389.0 548.5 L389.5 543.7 L390.0 538.6 L390.5 533.0 L391.0 527.0 L391.5 519.6 L392.0 510.5 L392.5 500.5 L393.0 490.6 L393.5 481.4 L394.0 471.9 L394.5 462.4 L395.0 453.3 L395.5 445.2 L396.0 438.5 L396.5 432.6 L397.0 427.3 L397.5 422.4 L398.0 417.8 L398.5 413.3 L399.0 409.0 L399.5 404.6 L400.0 400.0 L400.5 395.5 L401.0 391.2 L401.5 387.0 L402.0 382.9 L402.5 378.8 L403.0 374.6 L403.5 370.2 L404.0 365.5 L404.5 360.5 L405.0 355.0 L405.5 348.4 L406.0 340.6 L406.5 332.1 L407.0 323.8 L407.5 316.2 L408.0 310.0 L408.5 304.9 L409.0 300.2 L409.5 295.9 L410.0 291.9 L410.5 288.3 L411.0 285.0 L411.5 282.0 L412.0 279.2 L412.5 276.5 L413.0 274.0 L413.5 271.7 L414.0 269.7 L414.5 267.9 L415.0 266.5 L415.5 265.2 L416.0 264.0 L416.5 263.0 L417.0 262.2 L417.5 261.7 L418.0 261.8 L418.5 262.2 L419.0 263.0 L419.5 264.0 L420.0 265.2 L420.5 266.5 L421.0 268.1 L421.5 270.4 L422.0 273.1 L422.5 276.0 L423.0 279.0 L423.5 282.0 L424.0 284.7 L424.5 287.3 L425.0 290.0 L425.5 293.2 L426.0 297.2 L426.5 302.5 L427.0 312.1 L427.5 325.5 L428.0 341.4 L428.5 358.3 L429.0 375.0 L429.5 390.1 L430.0 402.2 L430.5 412.8 L431.0 423.0 L431.5 432.7 L432.0 442.1 L432.5 451.1 L433.0 459.7 L433.5 468.0 L434.0 476.0 L434.5 483.8 L435.0 491.3 L435.5 498.6 L436.0 505.6 L436.5 512.4 L437.0 519.0 L437.5 525.3 L438.0 531.4 L438.5 537.3 L439.0 543.1 L439.5 548.7 L440.0 554.2 L440.5 559.5 L441.0 564.7 L441.5 569.9 L442.0 575.0 L442.5 579.9 L443.0 584.7 L443.5 589.3 L444.0 593.7 L444.5 597.8 L445.0 601.6 L445.5 605.2 L446.0 608.7 L446.5 612.0 L447.0 615.3 L447.5 618.4 L448.0 621.4 L448.5 624.3 L449.0 627.1 L449.5 629.7 L450.0 632.3 L450.5 634.8 L451.0 637.2 L451.5 639.7 L452.0 642.2 L452.5 644.6 L453.0 646.9 L453.5 649.0 L454.0 650.7 L454.5 652.1 L455.0 653.0 L455.5 653.6 L456.0 654.2 L456.5 654.7 L457.0 655.2 L457.5 655.6 L458.0 656.0 L458.5 656.3 L459.0 656.6 L459.5 656.7 L460.0 656.8 L460.5 656.8 L461.0 656.7 L461.5 656.6 L462.0 656.4 L462.5 656.2 L463.0 655.9 L463.5 655.6 L464.0 655.3 L464.5 654.9 L465.0 654.5 L465.5 654.0 L466.0 653.6 L466.5 653.1 L467.0 652.5 L467.5 651.6 L468.0 650.5 L468.5 649.2 L469.0 647.7 L469.5 646.1 L470.0 644.4 L470.5 642.5 L471.0 640.7 L471.5 638.8 L472.0 636.9 L472.5 634.9 L473.0 632.8 L473.5 630.4 L474.0 627.9 L474.5 625.2 L475.0 622.4 L475.5 619.6 L476.0 616.9 L476.5 614.2 L477.0 611.6 L477.5 609.3 L478.0 607.2 L478.5 605.2 L479.0 603.3 L479.5 601.3 L480.0 599.5 L482.0 592.5 L484.0 586.7 L486.0 582.6 L488.0 578.9 L490.0 575.6 L492.0 573.0 L494.0 571.4 L496.0 571.2 L498.0 572.2 L500.0 574.2 L502.0 576.9 L504.0 579.9 L506.0 584.3 L508.0 590.4 L510.0 597.4 L512.0 604.4 L514.0 611.9 L516.0 620.1 L518.0 628.7 L520.0 638.3 L522.0 649.0 L524.0 659.8 L526.0 670.0 L528.0 679.5 L530.0 688.9 L532.0 698.5 L534.0 709.2 L536.0 721.1 L538.0 733.6 L540.0 745.6 L542.0 756.5 L544.0 765.5 L546.0 773.1 L548.0 779.7 L550.0 785.6 L552.0 791.0 L554.0 795.9 L556.0 799.8 L558.0 802.9 L560.0 805.5 L562.0 807.6 L564.0 809.4 L566.0 811.1 L568.0 812.7 L570.0 814.0 L572.0 815.2 L574.0 816.0 L576.0 816.4 L578.0 816.6 L580.0 816.8 L582.0 816.9 L584.0 817.0 L586.0 817.2 L588.0 817.4 L590.0 817.8 L592.0 818.4 L594.0 819.4 L596.0 820.6 L598.0 822.0 L600.0 823.5 L602.0 825.0 L604.0 826.4 L606.0 827.9 L608.0 829.5 L610.0 831.2 L612.0 832.9 L614.0 834.6 L616.0 836.2 L618.0 837.7 L620.0 839.1 L622.0 840.5 L624.0 842.0 L626.0 843.2 L628.0 844.3 L630.0 845.1 L632.0 845.7 L634.0 846.2 L636.0 846.7 L638.0 847.1 L640.0 847.4 L642.0 847.8 L644.0 848.1 L646.0 848.5 L648.0 848.9 L650.0 849.3 L652.0 849.8 L654.0 850.3 L656.0 850.8 L658.0 851.4 L660.0 851.9 L662.0 852.4 L664.0 852.9 L666.0 853.4 L668.0 853.8 L670.0 854.2 L672.0 854.6 L674.0 855.0 L676.0 855.4 L678.0 855.7 L680.0 856.1 L682.0 856.4 L684.0 856.8 L686.0 857.1 L688.0 857.5 L690.0 857.9 L692.0 858.3 L694.0 858.7 L696.0 859.1 L698.0 859.4 L700.0 859.8 L702.0 860.0 L704.0 860.2 L706.0 860.3 L708.0 860.4 L710.0 860.5 L712.0 860.5 L714.0 860.6 L716.0 860.7 L718.0 860.7 L720.0 860.7 L722.0 860.8 L724.0 860.8 L726.0 860.8 L728.0 860.7 L730.0 860.5 L732.0 860.3 L734.0 860.0 L736.0 859.8 L738.0 859.5 L740.0 859.3 L742.0 859.1 L744.0 858.9 L746.0 858.8 L748.0 858.8 L750.0 858.8 L752.0 858.8 L754.0 858.8 L756.0 858.8 L758.0 858.8 L760.0 858.8 L762.0 858.8 L764.0 858.8 L766.0 858.7 L768.0 858.6 L770.0 858.4 L772.0 858.1 L774.0 857.8 L776.0 857.5 L778.0 857.3 L780.0 857.1 L782.0 857.0 L784.0 857.1 L786.0 857.4 L788.0 857.7 L790.0 858.1 L792.0 858.6 L794.0 859.1 L796.0 859.5 L798.0 859.8 L800.0 860.1 L802.0 860.2 L804.0 860.2 L806.0 860.1 L808.0 860.1 L810.0 859.9 L812.0 859.8 L814.0 859.7 L816.0 859.6 L818.0 859.4 L820.0 859.3 L822.0 859.2 L824.0 859.0 L826.0 858.8 L828.0 858.6 L830.0 858.4 L832.0 858.3 L834.0 858.1 L836.0 858.0 L838.0 857.9 L840.0 857.9 L842.0 857.9 L844.0 857.9 L846.0 857.9 L848.0 857.9 L850.0 857.9 L852.0 857.9 L854.0 857.9 L856.0 857.9 L858.0 857.9 L860.0 857.8 L862.0 857.7 L864.0 857.5 L866.0 857.2 L868.0 857.0 L870.0 856.7 L872.0 856.5 L874.0 856.2 L876.0 856.0 L878.0 855.8 L880.0 855.7 L882.0 855.6 L884.0 855.4 L886.0 855.3 L888.0 855.2 L890.0 855.0 L892.0 854.9 L894.0 854.8 L896.0 854.7 L898.0 854.6 L900.0 854.6 L902.0 854.5 L904.0 854.4 L906.0 854.4 L908.0 854.3 L910.0 854.3 L912.0 854.2 L914.0 854.2 L916.0 854.1 L918.0 854.1 L920.0 854.1 L922.0 854.0 L924.0 854.0 L926.0 854.0 L928.0 853.9 L930.0 853.9 L932.0 853.9 L934.0 853.9 L936.0 853.9 L938.0 853.9 L940.0 853.9 L942.0 853.9 L944.0 853.9 L946.0 854.0 L948.0 854.0 L950.0 854.1 L952.0 854.1 L954.0 854.2 L956.0 854.3 L958.0 854.3 L960.0 854.4 L962.0 854.5 L964.0 854.7 L966.0 854.9 L968.0 855.1 L970.0 855.4 L972.0 855.7 L974.0 856.1 L976.0 856.4 L978.0 856.7 L980.0 856.9 L982.0 857.1 L984.0 857.3 L986.0 857.3 L988.0 857.3 L990.0 857.3 L992.0 857.2 L994.0 857.1 L996.0 857.0 L998.0 856.9 L1000.0 856.7 L1002.0 856.6 L1004.0 856.5 L1006.0 856.3 L1008.0 856.0 L1010.0 855.8 L1012.0 855.5 L1014.0 855.3 L1016.0 855.1 L1018.0 855.0 L1020.0 855.1 L1022.0 855.2 L1024.0 855.3 L1026.0 855.5 L1028.0 855.7 L1030.0 856.0 L1032.0 856.2 L1034.0 856.4 L1036.0 856.5 L1038.0 856.6 L1040.0 856.8 L1042.0 856.9 L1044.0 857.0 L1046.0 857.1 L1048.0 857.2 L1050.0 857.3 L1052.0 857.3 L1054.0 857.3 L1056.0 857.2 L1058.0 857.1 L1060.0 856.9 L1062.0 856.7 L1064.0 856.4 L1066.0 856.2 L1068.0 856.0 L1070.0 855.9 L1072.0 855.8 L1074.0 855.7 L1076.0 855.5 L1078.0 855.4 L1080.0 855.3 L1082.0 855.2 L1084.0 855.1 L1086.0 855.1 L1088.0 855.0 L1090.0 855.0 L1092.0 855.2 L1094.0 855.6 L1096.0 856.1 L1098.0 856.4 L1100.0 856.5 L1102.0 856.4 L1104.0 856.4 L1106.0 856.3 L1108.0 856.3 L1110.0 856.2 L1112.0 856.1 L1114.0 856.0 L1116.0 855.9 L1118.0 855.8 L1120.0 855.6 L1122.0 855.4 L1124.0 855.1 L1126.0 854.8 L1128.0 854.6 L1130.0 854.3 L1132.0 854.0 L1134.0 853.8 L1136.0 853.6 L1138.0 853.4 L1140.0 853.3 L1142.0 853.1 L1144.0 852.9 L1146.0 852.8 L1148.0 852.7 L1150.0 852.5 L1152.0 852.4 L1154.0 852.3 L1156.0 852.2 L1158.0 852.1 L1160.0 852.0 L1162.0 851.9 L1164.0 851.9 L1166.0 851.8 L1168.0 851.7 L1170.0 851.6 L1172.0 851.5 L1174.0 851.3 L1176.0 851.0 L1178.0 850.7 L1180.0 850.5 L1182.0 850.3 L1184.0 850.2 L1186.0 850.2 L1188.0 850.3 L1190.0 850.7 L1192.0 851.1 L1194.0 851.6 L1196.0 852.0 L1198.0 852.4 L1200.0 852.7 L1202.0 852.9 L1204.0 853.2 L1206.0 853.4 L1208.0 853.6 L1210.0 853.8 L1212.0 853.9 L1214.0 854.1 L1216.0 854.2 L1218.0 854.3 L1220.0 854.4 L1222.0 854.4 L1224.0 854.4 L1226.0 854.4 L1228.0 854.2 L1230.0 854.1 L1232.0 853.9 L1234.0 853.7 L1236.0 853.4 L1238.0 853.2 L1240.0 853.0 L1242.0 852.9 L1244.0 852.6 L1246.0 852.4 L1248.0 852.2 L1250.0 852.0 L1252.0 851.8 L1254.0 851.7 L1256.0 851.6 L1258.0 851.6 L1260.0 851.6 L1262.0 851.6 L1264.0 851.6 L1266.0 851.6 L1268.0 851.6 L1270.0 851.6 L1272.0 851.6 L1274.0 851.6 L1276.0 851.6 L1278.0 851.8 L1280.0 852.2 L1282.0 852.7 L1284.0 853.2 L1286.0 853.6 L1288.0 854.1 L1290.0 854.3 L1292.0 854.5 L1294.0 854.4 L1296.0 854.1 L1298.0 853.8 L1300.0 853.4 L1302.0 853.1 L1304.0 852.9 L1306.0 852.7 L1308.0 852.7 L1310.0 852.7 L1312.0 852.7 L1314.0 852.7 L1316.0 852.7 L1318.0 852.7 L1320.0 852.7 L1322.0 852.7 L1324.0 852.7 L1326.0 852.7 L1328.0 852.8 L1330.0 853.2 L1332.0 853.8 L1334.0 854.4 L1336.0 855.0 L1338.0 855.6 L1340.0 855.9 L1342.0 855.9 L1344.0 855.8 L1346.0 855.6 L1348.0 855.4 L1350.0 855.1 L1352.0 854.9 L1354.0 854.6 L1356.0 854.4 L1358.0 854.0 L1360.0 853.7 L1362.0 853.3 L1364.0 852.8 L1366.0 852.4 L1368.0 852.0 L1370.0 851.6 L1372.0 851.2 L1374.0 851.0 L1376.0 850.8 L1378.0 850.7 L1380.0 850.7 L1382.0 850.8 L1384.0 851.0 L1386.0 851.2 L1388.0 851.4 L1390.0 851.7 L1392.0 851.9 L1394.0 852.2 L1396.0 852.4 L1398.0 852.6 L1400.0 852.7 L1402.0 852.7 L1404.0 852.8 L1406.0 852.8 L1408.0 852.8 L1410.0 852.8 L1412.0 852.8 L1414.0 852.9 L1416.0 852.9 L1418.0 852.9 L1420.0 852.9 L1422.0 852.9 L1424.0 852.9 L1426.0 853.0 L1428.0 853.0 L1430.0 853.0 L1432.0 853.1 L1434.0 853.1 L1436.0 853.3 L1438.0 853.4 L1440.0 853.5 L1442.0 853.7 L1444.0 853.8 L1446.0 853.9 L1448.0 854.0 L1450.0 854.1 L1452.0 854.2 L1454.0 854.2 L1456.0 854.1 L1458.0 854.1 L1460.0 854.0 L1462.0 854.0 L1464.0 853.9 L1466.0 853.8 L1468.0 853.7 L1470.0 853.6 L1472.0 853.5 L1474.0 853.3 L1476.0 853.0 L1478.0 852.7 L1480.0 852.4 L1482.0 852.1 L1484.0 851.8 L1486.0 851.5 L1488.0 851.2 L1490.0 851.0 L1492.0 850.7 L1494.0 850.3 L1496.0 850.0 L1498.0 849.8 L1500.0 849.5 L1502.0 849.4 L1504.0 849.3 L1506.0 849.3 L1508.0 849.4 L1510.0 849.5 L1512.0 849.7 L1514.0 849.9 L1516.0 850.1 L1518.0 850.3 L1520.0 850.5 L1522.0 850.6 L1524.0 850.7 L1526.0 850.7 L1528.0 850.7 L1530.0 850.7 L1532.0 850.7 L1534.0 850.7 L1536.0 850.7 L1538.0 850.7 L1540.0 850.7 L1542.0 850.7 L1544.0 850.7 L1546.0 850.7 L1548.0 850.7 L1550.0 850.7 L1552.0 850.7 L1554.0 850.7 L1555.1 850.7" stroke="#0AA08E" stroke-width="10.0"/>
<path d="M118.5 980.1 L120.5 980.3 L122.5 980.5 L124.5 980.6 L126.5 980.8 L128.5 980.9 L130.5 981.1 L132.5 981.2 L134.5 981.4 L136.5 981.5 L138.5 981.6 L140.5 981.7 L142.5 981.8 L144.5 981.9 L146.5 981.9 L148.5 982.0 L150.5 982.1 L152.5 982.1 L154.5 982.1 L156.5 982.1 L158.5 982.1 L160.5 982.1 L162.5 982.1 L164.5 982.0 L166.5 982.0 L168.5 981.9 L170.5 981.9 L172.5 981.8 L174.5 981.8 L176.5 981.7 L178.5 981.7 L180.5 981.6 L182.5 981.6 L184.5 981.6 L186.5 981.6 L188.5 981.6 L190.5 981.6 L192.5 981.6 L194.5 981.7 L196.5 981.8 L198.5 981.9 L200.5 981.9 L202.5 982.0 L204.5 982.2 L206.5 982.3 L208.5 982.4 L210.5 982.5 L212.5 982.6 L214.5 982.7 L216.5 982.8 L218.5 982.9 L220.5 983.0 L222.5 983.1 L224.5 983.2 L226.5 983.3 L228.5 983.4 L230.5 983.5 L232.5 983.5 L234.5 983.6 L236.5 983.7 L238.5 983.8 L240.5 983.8 L242.5 983.8 L244.5 983.9 L246.5 983.9 L248.5 983.8 L250.5 983.8 L252.5 983.8 L254.5 983.8 L256.5 983.8 L258.5 983.8 L260.5 983.7 L262.5 983.7 L264.5 983.7 L266.5 983.6 L268.5 983.6 L270.5 983.5 L272.5 982.9 L274.5 981.9 L276.5 980.6 L278.5 979.2 L280.5 977.7 L282.5 976.3 L284.5 974.6 L286.5 972.7 L288.5 970.7 L290.5 968.7 L292.5 966.8 L294.5 965.1 L296.5 963.6 L298.5 962.3 L300.5 961.2 L302.5 960.1 L304.5 959.0 L306.5 958.0 L308.5 957.0 L310.5 956.0 L312.5 954.9 L314.5 953.8 L316.5 952.7 L318.5 951.4 L320.5 950.0 L322.5 948.7 L324.5 947.2 L326.5 945.8 L328.5 944.3 L330.5 942.7 L332.5 941.0 L334.5 939.3 L336.5 937.5 L338.5 935.7 L340.5 933.7 L341.0 933.2 L341.5 932.7 L342.0 932.2 L342.5 931.7 L343.0 931.1 L343.5 930.6 L344.0 930.0 L344.5 929.5 L345.0 928.9 L345.5 928.3 L346.0 927.7 L346.5 927.1 L347.0 926.5 L347.5 925.9 L348.0 925.3 L348.5 924.6 L349.0 924.0 L349.5 923.3 L350.0 922.7 L350.5 922.0 L351.0 921.3 L351.5 920.6 L352.0 919.9 L352.5 919.2 L353.0 918.5 L353.5 917.8 L354.0 917.1 L354.5 916.3 L355.0 915.6 L355.5 914.8 L356.0 914.1 L356.5 913.3 L357.0 912.5 L357.5 911.7 L358.0 911.0 L358.5 910.2 L359.0 909.4 L359.5 908.5 L360.0 907.7 L360.5 906.9 L361.0 906.1 L361.5 905.2 L362.0 904.4 L362.5 903.5 L363.0 902.7 L363.5 901.8 L364.0 900.9 L364.5 900.0 L365.0 899.1 L365.5 898.1 L366.0 897.2 L366.5 896.2 L367.0 895.2 L367.5 894.2 L368.0 893.1 L368.5 892.1 L369.0 891.0 L369.5 889.9 L370.0 888.8 L370.5 887.6 L371.0 886.4 L371.5 885.2 L372.0 884.0 L372.5 882.7 L373.0 881.4 L373.5 880.1 L374.0 878.7 L374.5 877.2 L375.0 875.7 L375.5 874.2 L376.0 872.6 L376.5 870.9 L377.0 869.2 L377.5 867.4 L378.0 865.5 L378.5 863.6 L379.0 861.6 L379.5 859.6 L380.0 857.5 L380.5 855.3 L381.0 853.1 L381.5 850.7 L382.0 848.4 L382.5 845.8 L383.0 843.0 L383.5 840.1 L384.0 837.0 L384.5 833.7 L385.0 830.3 L385.5 826.9 L386.0 823.3 L386.5 819.7 L387.0 816.0 L387.5 812.4 L388.0 808.6 L388.5 804.9 L389.0 801.0 L389.5 797.0 L390.0 792.9 L390.5 788.7 L391.0 784.3 L391.5 779.7 L392.0 775.0 L392.5 770.0 L393.0 764.8 L393.5 759.5 L394.0 753.9 L394.5 748.0 L395.0 741.8 L395.5 735.4 L396.0 728.6 L396.5 721.4 L397.0 713.8 L397.5 705.8 L398.0 696.9 L398.5 687.2 L399.0 676.9 L399.5 666.1 L400.0 654.8 L400.5 643.1 L401.0 631.2 L401.5 619.2 L402.0 607.2 L402.5 595.2 L403.0 582.7 L403.5 569.7 L404.0 556.3 L404.5 542.8 L405.0 529.3 L405.5 515.8 L406.0 502.6 L406.5 489.2 L407.0 475.0 L407.5 461.4 L408.0 449.5 L408.5 440.5 L409.0 432.8 L409.5 425.8 L410.0 419.4 L410.5 413.5 L411.0 408.0 L411.5 402.9 L412.0 397.9 L412.5 393.1 L413.0 388.3 L413.5 383.4 L414.0 378.6 L414.5 373.9 L415.0 369.5 L415.5 365.3 L416.0 361.5 L416.5 358.0 L417.0 354.7 L417.5 351.6 L418.0 348.9 L418.5 347.0 L419.0 345.6 L419.5 344.3 L420.0 343.4 L420.5 343.0 L421.0 343.3 L421.5 344.3 L422.0 345.9 L422.5 348.2 L423.0 354.6 L423.5 365.7 L424.0 388.3 L424.5 405.6 L425.0 418.0 L425.5 428.7 L426.0 438.4 L426.5 447.6 L427.0 457.0 L427.5 466.6 L428.0 475.9 L428.5 485.0 L429.0 493.9 L429.5 502.7 L430.0 511.5 L430.5 520.2 L431.0 529.0 L431.5 537.8 L432.0 546.7 L432.5 555.5 L433.0 564.3 L433.5 573.0 L434.0 581.6 L434.5 590.0 L435.0 598.4 L435.5 606.5 L436.0 614.6 L436.5 622.5 L437.0 630.4 L437.5 638.2 L438.0 645.9 L438.5 653.5 L439.0 661.1 L439.5 668.7 L440.0 676.2 L440.5 683.7 L441.0 691.2 L441.5 698.7 L442.0 706.2 L442.5 713.7 L443.0 721.6 L443.5 729.6 L444.0 737.8 L444.5 745.8 L445.0 753.7 L445.5 761.2 L446.0 768.1 L446.5 774.5 L447.0 780.0 L447.5 784.9 L448.0 789.6 L448.5 794.0 L449.0 798.2 L449.5 802.0 L450.0 805.7 L450.5 809.0 L451.0 812.1 L451.5 815.0 L452.0 817.6 L452.5 820.1 L453.0 822.4 L453.5 824.5 L454.0 826.6 L454.5 828.5 L455.0 830.4 L455.5 832.3 L456.0 834.2 L456.5 836.1 L457.0 838.0 L457.5 840.0 L458.0 842.2 L458.5 844.2 L459.0 846.2 L459.5 847.9 L460.0 849.3 L460.5 850.4 L461.0 851.5 L461.5 852.6 L462.0 853.6 L462.5 854.5 L463.0 855.4 L463.5 856.3 L464.0 857.2 L464.5 858.0 L465.0 858.7 L465.5 859.5 L466.0 860.2 L466.5 860.9 L467.0 861.5 L467.5 862.1 L468.0 862.7 L468.5 863.3 L469.0 863.9 L469.5 864.4 L470.0 865.0 L470.5 865.5 L471.0 866.0 L471.5 866.5 L472.0 867.0 L472.5 867.5 L473.0 867.9 L473.5 868.3 L474.0 868.7 L474.5 869.0 L475.0 869.4 L475.5 869.7 L476.0 870.1 L476.5 870.4 L477.0 870.7 L477.5 871.0 L478.0 871.3 L478.5 871.6 L479.0 872.0 L479.5 872.3 L480.0 872.6 L482.0 874.2 L484.0 876.2 L486.0 878.8 L488.0 881.8 L490.0 885.1 L492.0 888.4 L494.0 891.6 L496.0 894.7 L498.0 897.9 L500.0 901.0 L502.0 904.1 L504.0 907.0 L506.0 909.6 L508.0 912.0 L510.0 914.1 L512.0 916.1 L514.0 918.0 L516.0 919.8 L518.0 921.7 L520.0 923.7 L522.0 925.6 L524.0 927.6 L526.0 929.6 L528.0 931.6 L530.0 933.6 L532.0 935.6 L534.0 937.6 L536.0 939.8 L538.0 942.1 L540.0 944.5 L542.0 946.9 L544.0 949.2 L546.0 951.4 L548.0 953.3 L550.0 954.9 L552.0 956.3 L554.0 957.5 L556.0 958.7 L558.0 959.8 L560.0 960.9 L562.0 962.0 L564.0 963.1 L566.0 964.3 L568.0 965.5 L570.0 966.8 L572.0 968.0 L574.0 969.1 L576.0 970.3 L578.0 971.4 L580.0 972.5 L582.0 973.6 L584.0 974.7 L586.0 975.8 L588.0 976.9 L590.0 978.0 L592.0 978.9 L594.0 979.8 L596.0 980.5 L598.0 981.0 L600.0 981.3 L602.0 981.7 L604.0 982.0 L606.0 982.3 L608.0 982.5 L610.0 982.7 L612.0 982.9 L614.0 983.0 L616.0 983.0 L618.0 983.0 L620.0 983.0 L622.0 983.0 L624.0 983.0 L626.0 983.0 L628.0 983.0 L630.0 983.0 L632.0 983.0 L634.0 983.0 L636.0 983.0 L638.0 983.0 L640.0 983.1 L642.0 983.5 L644.0 984.0 L646.0 984.5 L648.0 984.9 L650.0 985.0 L652.0 984.9 L654.0 984.7 L656.0 984.5 L658.0 984.1 L660.0 983.8 L662.0 983.4 L664.0 983.0 L666.0 982.6 L668.0 982.2 L670.0 981.8 L672.0 981.4 L674.0 980.9 L676.0 980.4 L678.0 980.0 L680.0 979.6 L682.0 979.4 L684.0 979.3 L686.0 979.3 L688.0 979.4 L690.0 979.6 L692.0 979.8 L694.0 980.1 L696.0 980.4 L698.0 980.7 L700.0 981.0 L702.0 981.3 L704.0 981.5 L706.0 981.7 L708.0 982.0 L710.0 982.3 L712.0 982.5 L714.0 982.7 L716.0 982.9 L718.0 983.0 L720.0 983.0 L722.0 982.8 L724.0 982.6 L726.0 982.3 L728.0 982.0 L730.0 981.6 L732.0 981.2 L734.0 980.9 L736.0 980.6 L738.0 980.3 L740.0 980.2 L742.0 980.1 L744.0 980.2 L746.0 980.3 L748.0 980.4 L750.0 980.6 L752.0 980.8 L754.0 981.1 L756.0 981.3 L758.0 981.4 L760.0 981.5 L762.0 981.6 L764.0 981.6 L766.0 981.6 L768.0 981.6 L770.0 981.6 L772.0 981.6 L774.0 981.6 L776.0 981.6 L778.0 981.6 L780.0 981.6 L782.0 981.6 L784.0 981.7 L786.0 981.9 L788.0 982.3 L790.0 982.8 L792.0 983.3 L794.0 983.8 L796.0 984.1 L798.0 984.4 L800.0 984.4 L802.0 984.4 L804.0 984.4 L806.0 984.4 L808.0 984.4 L810.0 984.2 L812.0 983.5 L814.0 982.6 L816.0 981.5 L818.0 980.6 L820.0 979.9 L822.0 979.5 L824.0 979.6 L826.0 979.7 L828.0 980.0 L830.0 980.2 L832.0 980.6 L834.0 980.9 L836.0 981.2 L838.0 981.4 L840.0 981.6 L842.0 981.7 L844.0 981.9 L846.0 982.0 L848.0 982.1 L850.0 982.2 L852.0 982.3 L854.0 982.4 L856.0 982.4 L858.0 982.4 L860.0 982.4 L862.0 982.4 L864.0 982.4 L866.0 982.4 L868.0 982.4 L870.0 982.4 L872.0 982.4 L874.0 982.4 L876.0 982.4 L878.0 982.4 L880.0 982.4 L882.0 982.4 L884.0 982.5 L886.0 982.5 L888.0 982.5 L890.0 982.6 L892.0 982.6 L894.0 982.7 L896.0 982.8 L898.0 982.8 L900.0 982.9 L902.0 982.9 L904.0 983.0 L906.0 983.1 L908.0 983.2 L910.0 983.3 L912.0 983.5 L914.0 983.6 L916.0 983.8 L918.0 983.9 L920.0 984.1 L922.0 984.2 L924.0 984.3 L926.0 984.4 L928.0 984.5 L930.0 984.5 L932.0 984.6 L934.0 984.6 L936.0 984.7 L938.0 984.7 L940.0 984.8 L942.0 984.8 L944.0 984.9 L946.0 984.9 L948.0 985.0 L950.0 985.0 L952.0 985.1 L954.0 985.2 L956.0 985.4 L958.0 985.5 L960.0 985.6 L962.0 985.7 L964.0 985.8 L966.0 985.9 L968.0 985.9 L970.0 985.9 L972.0 985.9 L974.0 985.9 L976.0 985.9 L978.0 985.9 L980.0 985.8 L982.0 985.5 L984.0 985.1 L986.0 984.8 L988.0 984.5 L990.0 984.4 L992.0 984.4 L994.0 984.5 L996.0 984.5 L998.0 984.5 L1000.0 984.6 L1002.0 984.6 L1004.0 984.7 L1006.0 984.8 L1008.0 984.8 L1010.0 984.9 L1012.0 985.0 L1014.0 985.1 L1016.0 985.1 L1018.0 985.2 L1020.0 985.3 L1022.0 985.4 L1024.0 985.5 L1026.0 985.6 L1028.0 985.8 L1030.0 985.9 L1032.0 986.0 L1034.0 986.2 L1036.0 986.4 L1038.0 986.7 L1040.0 986.9 L1042.0 987.1 L1044.0 987.4 L1046.0 987.5 L1048.0 987.7 L1050.0 987.8 L1052.0 987.9 L1054.0 987.9 L1056.0 987.7 L1058.0 987.5 L1060.0 987.2 L1062.0 986.9 L1064.0 986.6 L1066.0 986.3 L1068.0 986.1 L1070.0 985.9 L1072.0 985.7 L1074.0 985.6 L1076.0 985.4 L1078.0 985.3 L1080.0 985.2 L1082.0 985.0 L1084.0 984.9 L1086.0 984.8 L1088.0 984.7 L1090.0 984.6 L1092.0 984.5 L1094.0 984.5 L1096.0 984.4 L1098.0 984.4 L1100.0 984.4 L1102.0 984.6 L1104.0 984.7 L1106.0 985.0 L1108.0 985.2 L1110.0 985.5 L1112.0 985.7 L1114.0 985.8 L1116.0 985.9 L1118.0 985.8 L1120.0 985.8 L1122.0 985.7 L1124.0 985.6 L1126.0 985.4 L1128.0 985.3 L1130.0 985.2 L1132.0 985.1 L1134.0 985.0 L1136.0 985.0 L1138.0 985.0 L1140.0 985.0 L1142.0 985.1 L1144.0 985.1 L1146.0 985.1 L1148.0 985.2 L1150.0 985.2 L1152.0 985.3 L1154.0 985.3 L1156.0 985.3 L1158.0 985.3 L1160.0 985.3 L1162.0 985.2 L1164.0 985.2 L1166.0 985.1 L1168.0 985.1 L1170.0 985.0 L1172.0 985.0 L1174.0 985.0 L1176.0 985.0 L1178.0 985.0 L1180.0 985.1 L1182.0 985.1 L1184.0 985.1 L1186.0 985.2 L1188.0 985.2 L1190.0 985.2 L1192.0 985.3 L1194.0 985.3 L1196.0 985.3 L1198.0 985.2 L1200.0 985.0 L1202.0 984.8 L1204.0 984.6 L1206.0 984.4 L1208.0 984.2 L1210.0 984.0 L1212.0 983.8 L1214.0 983.7 L1216.0 983.6 L1218.0 983.6 L1220.0 983.6 L1222.0 983.8 L1224.0 983.9 L1226.0 984.1 L1228.0 984.4 L1230.0 984.6 L1232.0 984.8 L1234.0 984.9 L1236.0 985.0 L1238.0 985.0 L1240.0 985.0 L1242.0 985.0 L1244.0 985.0 L1246.0 985.0 L1248.0 985.0 L1250.0 985.0 L1252.0 985.0 L1254.0 985.0 L1256.0 985.0 L1258.0 985.0 L1260.0 985.0 L1262.0 985.0 L1264.0 985.0 L1266.0 984.9 L1268.0 984.7 L1270.0 984.5 L1272.0 984.2 L1274.0 983.9 L1276.0 983.6 L1278.0 983.3 L1280.0 983.1 L1282.0 983.0 L1284.0 983.0 L1286.0 983.1 L1288.0 983.4 L1290.0 983.7 L1292.0 984.1 L1294.0 984.5 L1296.0 985.0 L1298.0 985.3 L1300.0 985.6 L1302.0 985.8 L1304.0 985.9 L1306.0 985.8 L1308.0 985.6 L1310.0 985.4 L1312.0 985.2 L1314.0 984.9 L1316.0 984.7 L1318.0 984.5 L1320.0 984.4 L1322.0 984.4 L1324.0 984.5 L1326.0 984.7 L1328.0 984.8 L1330.0 985.0 L1332.0 985.2 L1334.0 985.5 L1336.0 985.7 L1338.0 985.9 L1340.0 986.0 L1342.0 986.3 L1344.0 986.5 L1346.0 986.7 L1348.0 986.9 L1350.0 987.1 L1352.0 987.2 L1354.0 987.3 L1356.0 987.3 L1358.0 987.1 L1360.0 986.8 L1362.0 986.4 L1364.0 985.9 L1366.0 985.4 L1368.0 984.8 L1370.0 984.3 L1372.0 983.8 L1374.0 983.4 L1376.0 983.1 L1378.0 983.0 L1380.0 983.0 L1382.0 983.1 L1384.0 983.1 L1386.0 983.2 L1388.0 983.4 L1390.0 983.5 L1392.0 983.7 L1394.0 983.8 L1396.0 984.0 L1398.0 984.2 L1400.0 984.3 L1402.0 984.5 L1404.0 984.7 L1406.0 984.9 L1408.0 985.2 L1410.0 985.4 L1412.0 985.7 L1414.0 986.0 L1416.0 986.2 L1418.0 986.3 L1420.0 986.4 L1422.0 986.4 L1424.0 986.3 L1426.0 986.1 L1428.0 985.8 L1430.0 985.4 L1432.0 985.1 L1434.0 984.8 L1436.0 984.6 L1438.0 984.4 L1440.0 984.5 L1442.0 984.7 L1444.0 985.1 L1446.0 985.5 L1448.0 985.9 L1450.0 986.2 L1452.0 986.4 L1454.0 986.4 L1456.0 986.2 L1458.0 985.8 L1460.0 985.3 L1462.0 984.8 L1464.0 984.2 L1466.0 983.6 L1468.0 983.1 L1470.0 982.7 L1472.0 982.5 L1474.0 982.4 L1476.0 982.4 L1478.0 982.5 L1480.0 982.6 L1482.0 982.7 L1484.0 982.8 L1486.0 982.9 L1488.0 983.0 L1490.0 983.1 L1492.0 983.3 L1494.0 983.4 L1496.0 983.6 L1498.0 983.7 L1500.0 983.9 L1502.0 984.1 L1504.0 984.4 L1506.0 984.7 L1508.0 984.9 L1510.0 985.2 L1512.0 985.4 L1514.0 985.6 L1516.0 985.8 L1518.0 985.9 L1520.0 985.9 L1522.0 985.8 L1524.0 985.6 L1526.0 985.4 L1528.0 985.2 L1530.0 985.0 L1532.0 984.8 L1534.0 984.6 L1536.0 984.5 L1538.0 984.4 L1540.0 984.3 L1542.0 984.2 L1544.0 984.1 L1546.0 984.0 L1548.0 984.0 L1550.0 983.9 L1552.0 983.9 L1554.0 983.9 L1555.1 983.9" stroke="#344C98" stroke-width="10.0"/>
<path d="M118.5 922.9 L120.5 923.3 L122.5 923.7 L124.5 924.1 L126.5 924.5 L128.5 924.8 L130.5 925.2 L132.5 925.5 L134.5 925.8 L136.5 926.1 L138.5 926.4 L140.5 926.6 L142.5 926.8 L144.5 927.1 L146.5 927.3 L148.5 927.5 L150.5 927.7 L152.5 927.9 L154.5 928.1 L156.5 928.3 L158.5 928.4 L160.5 928.6 L162.5 928.7 L164.5 928.9 L166.5 929.0 L168.5 929.1 L170.5 929.2 L172.5 929.2 L174.5 929.2 L176.5 929.2 L178.5 929.2 L180.5 929.2 L182.5 929.2 L184.5 929.2 L186.5 929.2 L188.5 929.2 L190.5 929.2 L192.5 929.2 L194.5 929.1 L196.5 929.1 L198.5 929.1 L200.5 929.1 L202.5 929.1 L204.5 929.1 L206.5 929.1 L208.5 929.1 L210.5 929.0 L212.5 929.0 L214.5 929.0 L216.5 929.0 L218.5 929.0 L220.5 929.0 L222.5 929.0 L224.5 929.0 L226.5 929.0 L228.5 928.9 L230.5 928.9 L232.5 928.9 L234.5 928.9 L236.5 928.9 L238.5 928.9 L240.5 928.9 L242.5 928.9 L244.5 928.9 L246.5 928.9 L248.5 928.9 L250.5 928.9 L252.5 928.9 L254.5 928.9 L256.5 928.9 L258.5 928.9 L260.5 928.9 L262.5 928.9 L264.5 928.9 L266.5 928.9 L268.5 928.9 L270.5 928.9 L272.5 928.9 L274.5 928.9 L276.5 928.9 L278.5 928.9 L280.5 928.9 L282.5 928.9 L284.5 928.9 L286.5 928.9 L288.5 928.9 L290.5 928.9 L292.5 928.9 L294.5 928.9 L296.5 928.9 L298.5 928.9 L300.5 928.9 L302.5 928.8 L304.5 928.4 L306.5 927.6 L308.5 926.6 L310.5 925.4 L312.5 924.2 L314.5 922.9 L316.5 921.4 L318.5 919.6 L320.5 917.6 L322.5 915.4 L324.5 913.0 L326.5 910.5 L328.5 907.9 L330.5 904.9 L332.5 901.5 L334.5 897.9 L336.5 894.1 L338.5 890.1 L340.5 886.0 L341.0 884.9 L341.5 883.9 L342.0 882.8 L342.5 881.7 L343.0 880.6 L343.5 879.5 L344.0 878.4 L344.5 877.2 L345.0 876.0 L345.5 874.8 L346.0 873.6 L346.5 872.3 L347.0 871.1 L347.5 869.8 L348.0 868.5 L348.5 867.2 L349.0 865.9 L349.5 864.6 L350.0 863.3 L350.5 861.9 L351.0 860.6 L351.5 859.2 L352.0 857.9 L352.5 856.5 L353.0 855.2 L353.5 853.8 L354.0 852.4 L354.5 851.1 L355.0 849.7 L355.5 848.3 L356.0 847.0 L356.5 845.6 L357.0 844.2 L357.5 842.8 L358.0 841.3 L358.5 839.9 L359.0 838.4 L359.5 836.9 L360.0 835.4 L360.5 833.9 L361.0 832.4 L361.5 830.8 L362.0 829.2 L362.5 827.6 L363.0 825.9 L363.5 824.2 L364.0 822.5 L364.5 820.7 L365.0 818.9 L365.5 817.1 L366.0 815.2 L366.5 813.2 L367.0 811.2 L367.5 809.2 L368.0 807.1 L368.5 805.0 L369.0 802.9 L369.5 800.7 L370.0 798.4 L370.5 796.1 L371.0 793.8 L371.5 791.5 L372.0 789.0 L372.5 786.6 L373.0 784.1 L373.5 781.6 L374.0 779.0 L374.5 776.3 L375.0 773.5 L375.5 770.6 L376.0 767.7 L376.5 764.7 L377.0 761.7 L377.5 758.6 L378.0 755.5 L378.5 752.3 L379.0 749.1 L379.5 745.9 L380.0 742.6 L380.5 739.3 L381.0 736.0 L381.5 732.7 L382.0 729.3 L382.5 725.8 L383.0 722.2 L383.5 718.4 L384.0 714.5 L384.5 710.3 L385.0 706.0 L385.5 701.5 L386.0 696.8 L386.5 692.0 L387.0 686.9 L387.5 681.7 L388.0 676.1 L388.5 670.4 L389.0 664.3 L389.5 658.0 L390.0 651.0 L390.5 643.2 L391.0 634.8 L391.5 626.0 L392.0 617.2 L392.5 608.4 L393.0 600.0 L393.5 592.0 L394.0 584.0 L394.5 576.1 L395.0 568.1 L395.5 560.0 L396.0 551.6 L396.5 543.0 L397.0 534.2 L397.5 525.4 L398.0 516.7 L398.5 508.2 L399.0 500.0 L399.5 492.1 L400.0 484.4 L400.5 477.2 L401.0 470.3 L401.5 463.8 L402.0 457.4 L402.5 451.0 L403.0 444.5 L403.5 437.8 L404.0 430.5 L404.5 422.5 L405.0 414.3 L405.5 406.7 L406.0 400.5 L406.5 395.6 L407.0 391.3 L407.5 387.5 L408.0 383.9 L408.5 380.4 L409.0 376.8 L409.5 373.1 L410.0 369.6 L410.5 366.1 L411.0 362.7 L411.5 359.3 L412.0 356.0 L412.5 352.5 L413.0 349.0 L413.5 346.4 L414.0 344.6 L414.5 343.1 L415.0 341.9 L415.5 341.1 L416.0 341.1 L416.5 341.6 L417.0 342.7 L417.5 344.0 L418.0 345.5 L418.5 347.3 L419.0 349.7 L419.5 352.6 L420.0 356.0 L420.5 360.3 L421.0 365.7 L421.5 371.9 L422.0 378.5 L422.5 385.0 L423.0 391.5 L423.5 398.4 L424.0 405.0 L424.5 411.0 L425.0 416.6 L425.5 422.1 L426.0 427.7 L426.5 433.7 L427.0 440.1 L427.5 446.4 L428.0 452.9 L428.5 459.9 L429.0 467.6 L429.5 476.2 L430.0 487.0 L430.5 500.0 L431.0 510.5 L431.5 520.2 L432.0 529.4 L432.5 538.5 L433.0 547.5 L433.5 556.3 L434.0 564.9 L434.5 573.3 L435.0 581.5 L435.5 589.4 L436.0 596.9 L436.5 604.2 L437.0 611.3 L437.5 618.4 L438.0 625.4 L438.5 632.2 L439.0 638.9 L439.5 645.3 L440.0 651.4 L440.5 657.2 L441.0 662.7 L441.5 667.7 L442.0 672.3 L442.5 676.5 L443.0 680.5 L443.5 684.2 L444.0 687.7 L444.5 691.1 L445.0 694.3 L445.5 697.4 L446.0 700.3 L446.5 703.2 L447.0 706.1 L447.5 708.9 L448.0 711.6 L448.5 714.4 L449.0 717.3 L449.5 720.1 L450.0 722.9 L450.5 725.6 L451.0 728.4 L451.5 731.1 L452.0 733.8 L452.5 736.5 L453.0 739.0 L453.5 741.6 L454.0 744.0 L454.5 746.4 L455.0 748.7 L455.5 750.9 L456.0 753.0 L456.5 755.0 L457.0 756.9 L457.5 758.7 L458.0 760.4 L458.5 762.2 L459.0 763.8 L459.5 765.5 L460.0 767.1 L460.5 768.7 L461.0 770.2 L461.5 771.7 L462.0 773.1 L462.5 774.5 L463.0 775.8 L463.5 777.0 L464.0 778.2 L464.5 779.3 L465.0 780.4 L465.5 781.3 L466.0 782.2 L466.5 783.0 L467.0 783.7 L467.5 784.4 L468.0 785.0 L468.5 785.6 L469.0 786.1 L469.5 786.7 L470.0 787.1 L470.5 787.6 L471.0 788.1 L471.5 788.5 L472.0 789.0 L472.5 789.5 L473.0 790.0 L473.5 790.5 L474.0 791.0 L474.5 791.6 L475.0 792.2 L475.5 792.9 L476.0 793.5 L476.5 794.1 L477.0 794.5 L477.5 794.8 L478.0 795.0 L478.5 795.2 L479.0 795.4 L479.5 795.6 L480.0 795.7 L482.0 796.3 L484.0 796.8 L486.0 797.1 L488.0 797.5 L490.0 797.8 L492.0 798.2 L494.0 798.8 L496.0 799.5 L498.0 800.4 L500.0 801.4 L502.0 802.4 L504.0 803.5 L506.0 804.6 L508.0 805.7 L510.0 806.7 L512.0 807.6 L514.0 808.5 L516.0 809.4 L518.0 810.4 L520.0 811.6 L522.0 813.1 L524.0 814.8 L526.0 816.7 L528.0 818.9 L530.0 821.2 L532.0 823.5 L534.0 826.1 L536.0 828.8 L538.0 831.8 L540.0 835.0 L542.0 838.3 L544.0 841.7 L546.0 845.7 L548.0 849.9 L550.0 854.1 L552.0 857.9 L554.0 861.2 L556.0 864.4 L558.0 867.4 L560.0 870.3 L562.0 873.1 L564.0 875.8 L566.0 878.5 L568.0 881.2 L570.0 883.7 L572.0 886.1 L574.0 888.4 L576.0 890.6 L578.0 892.6 L580.0 894.6 L582.0 896.5 L584.0 898.3 L586.0 900.0 L588.0 901.5 L590.0 902.9 L592.0 904.0 L594.0 905.1 L596.0 906.1 L598.0 907.1 L600.0 908.0 L602.0 908.9 L604.0 909.8 L606.0 910.7 L608.0 911.6 L610.0 912.6 L612.0 913.5 L614.0 914.4 L616.0 915.2 L618.0 916.0 L620.0 916.7 L622.0 917.3 L624.0 917.7 L626.0 918.1 L628.0 918.4 L630.0 918.7 L632.0 919.0 L634.0 919.3 L636.0 919.5 L638.0 919.7 L640.0 919.9 L642.0 920.1 L644.0 920.3 L646.0 920.5 L648.0 920.7 L650.0 920.9 L652.0 921.1 L654.0 921.3 L656.0 921.5 L658.0 921.7 L660.0 921.9 L662.0 922.1 L664.0 922.3 L666.0 922.4 L668.0 922.5 L670.0 922.6 L672.0 922.6 L674.0 922.6 L676.0 922.6 L678.0 922.6 L680.0 922.6 L682.0 922.6 L684.0 922.6 L686.0 922.6 L688.0 922.6 L690.0 922.6 L692.0 922.5 L694.0 922.3 L696.0 922.1 L698.0 921.7 L700.0 921.3 L702.0 920.9 L704.0 920.4 L706.0 920.0 L708.0 919.6 L710.0 919.2 L712.0 918.7 L714.0 918.1 L716.0 917.6 L718.0 917.1 L720.0 916.6 L722.0 916.1 L724.0 915.8 L726.0 915.5 L728.0 915.4 L730.0 915.3 L732.0 915.2 L734.0 915.1 L736.0 915.0 L738.0 915.0 L740.0 914.9 L742.0 914.9 L744.0 914.9 L746.0 914.8 L748.0 914.8 L750.0 914.9 L752.0 915.0 L754.0 915.2 L756.0 915.4 L758.0 915.6 L760.0 915.8 L762.0 916.0 L764.0 916.1 L766.0 916.3 L768.0 916.5 L770.0 916.6 L772.0 916.7 L774.0 916.8 L776.0 916.9 L778.0 916.9 L780.0 916.9 L782.0 916.9 L784.0 916.9 L786.0 916.9 L788.0 916.9 L790.0 916.9 L792.0 916.9 L794.0 916.8 L796.0 916.8 L798.0 916.7 L800.0 916.6 L802.0 916.5 L804.0 916.3 L806.0 916.1 L808.0 915.9 L810.0 915.7 L812.0 915.6 L814.0 915.4 L816.0 915.2 L818.0 915.0 L820.0 914.8 L822.0 914.6 L824.0 914.4 L826.0 914.2 L828.0 914.1 L830.0 914.0 L832.0 914.0 L834.0 914.0 L836.0 914.0 L838.0 914.0 L840.0 914.0 L842.0 913.7 L844.0 913.0 L846.0 912.3 L848.0 911.6 L850.0 910.9 L852.0 910.1 L854.0 909.4 L856.0 908.6 L858.0 908.0 L860.0 907.3 L862.0 906.7 L864.0 906.1 L866.0 905.5 L868.0 904.9 L870.0 904.3 L872.0 903.7 L874.0 903.2 L876.0 902.8 L878.0 902.3 L880.0 902.0 L882.0 901.6 L884.0 901.2 L886.0 900.9 L888.0 900.6 L890.0 900.3 L892.0 900.0 L894.0 899.7 L896.0 899.4 L898.0 899.1 L900.0 898.8 L902.0 898.5 L904.0 898.1 L906.0 897.7 L908.0 897.3 L910.0 896.9 L912.0 896.5 L914.0 896.2 L916.0 895.9 L918.0 895.6 L920.0 895.4 L922.0 895.3 L924.0 895.3 L926.0 895.3 L928.0 895.3 L930.0 895.3 L932.0 895.4 L934.0 895.4 L936.0 895.5 L938.0 895.5 L940.0 895.6 L942.0 895.7 L944.0 895.8 L946.0 895.8 L948.0 896.0 L950.0 896.2 L952.0 896.4 L954.0 896.8 L956.0 897.1 L958.0 897.6 L960.0 898.0 L962.0 898.5 L964.0 899.0 L966.0 899.5 L968.0 900.0 L970.0 900.5 L972.0 901.2 L974.0 901.9 L976.0 902.6 L978.0 903.3 L980.0 904.0 L982.0 904.7 L984.0 905.4 L986.0 906.0 L988.0 906.6 L990.0 907.1 L992.0 907.6 L994.0 908.1 L996.0 908.6 L998.0 909.1 L1000.0 909.5 L1002.0 910.0 L1004.0 910.5 L1006.0 910.9 L1008.0 911.4 L1010.0 911.9 L1012.0 912.3 L1014.0 912.8 L1016.0 913.3 L1018.0 913.7 L1020.0 914.1 L1022.0 914.5 L1024.0 914.8 L1026.0 915.1 L1028.0 915.4 L1030.0 915.7 L1032.0 916.0 L1034.0 916.2 L1036.0 916.4 L1038.0 916.6 L1040.0 916.8 L1042.0 916.9 L1044.0 917.0 L1046.0 917.1 L1048.0 917.2 L1050.0 917.2 L1052.0 917.3 L1054.0 917.4 L1056.0 917.4 L1058.0 917.5 L1060.0 917.6 L1062.0 917.8 L1064.0 917.9 L1066.0 918.2 L1068.0 918.5 L1070.0 918.8 L1072.0 919.1 L1074.0 919.5 L1076.0 919.8 L1078.0 920.1 L1080.0 920.4 L1082.0 920.6 L1084.0 920.9 L1086.0 921.1 L1088.0 921.3 L1090.0 921.6 L1092.0 921.8 L1094.0 922.0 L1096.0 922.2 L1098.0 922.4 L1100.0 922.5 L1102.0 922.6 L1104.0 922.6 L1106.0 922.6 L1108.0 922.6 L1110.0 922.6 L1112.0 922.6 L1114.0 922.6 L1116.0 922.6 L1118.0 922.6 L1120.0 922.6 L1122.0 922.6 L1124.0 922.6 L1126.0 922.5 L1128.0 922.3 L1130.0 922.2 L1132.0 922.1 L1134.0 921.9 L1136.0 921.8 L1138.0 921.7 L1140.0 921.8 L1142.0 921.8 L1144.0 922.0 L1146.0 922.2 L1148.0 922.5 L1150.0 922.7 L1152.0 923.0 L1154.0 923.2 L1156.0 923.3 L1158.0 923.4 L1160.0 923.5 L1162.0 923.4 L1164.0 923.4 L1166.0 923.3 L1168.0 923.2 L1170.0 923.0 L1172.0 922.9 L1174.0 922.8 L1176.0 922.6 L1178.0 922.5 L1180.0 922.2 L1182.0 922.0 L1184.0 921.7 L1186.0 921.5 L1188.0 921.3 L1190.0 921.2 L1192.0 921.3 L1194.0 921.8 L1196.0 922.5 L1198.0 923.2 L1200.0 923.5 L1202.0 923.5 L1204.0 923.4 L1206.0 923.4 L1208.0 923.3 L1210.0 923.3 L1212.0 923.2 L1214.0 923.1 L1216.0 923.0 L1218.0 922.9 L1220.0 922.8 L1222.0 922.7 L1224.0 922.5 L1226.0 922.3 L1228.0 921.9 L1230.0 921.5 L1232.0 921.1 L1234.0 920.8 L1236.0 920.6 L1238.0 920.6 L1240.0 920.7 L1242.0 920.9 L1244.0 921.2 L1246.0 921.5 L1248.0 921.9 L1250.0 922.3 L1252.0 922.6 L1254.0 923.1 L1256.0 923.7 L1258.0 924.3 L1260.0 924.9 L1262.0 925.5 L1264.0 926.0 L1266.0 926.3 L1268.0 926.3 L1270.0 926.2 L1272.0 925.8 L1274.0 925.3 L1276.0 924.8 L1278.0 924.2 L1280.0 923.8 L1282.0 923.5 L1284.0 923.5 L1286.0 923.5 L1288.0 923.5 L1290.0 923.5 L1292.0 923.5 L1294.0 923.5 L1296.0 923.5 L1298.0 923.5 L1300.0 923.6 L1302.0 923.8 L1304.0 924.1 L1306.0 924.4 L1308.0 924.7 L1310.0 925.1 L1312.0 925.3 L1314.0 925.5 L1316.0 925.5 L1318.0 925.4 L1320.0 925.3 L1322.0 925.1 L1324.0 924.9 L1326.0 924.7 L1328.0 924.5 L1330.0 924.3 L1332.0 924.1 L1334.0 924.1 L1336.0 924.0 L1338.0 924.1 L1340.0 924.1 L1342.0 924.2 L1344.0 924.3 L1346.0 924.4 L1348.0 924.5 L1350.0 924.6 L1352.0 924.7 L1354.0 924.7 L1356.0 924.8 L1358.0 924.9 L1360.0 924.9 L1362.0 924.9 L1364.0 924.7 L1366.0 924.4 L1368.0 924.1 L1370.0 923.7 L1372.0 923.3 L1374.0 923.0 L1376.0 922.7 L1378.0 922.6 L1380.0 922.6 L1382.0 922.8 L1384.0 923.0 L1386.0 923.4 L1388.0 923.7 L1390.0 924.1 L1392.0 924.4 L1394.0 924.8 L1396.0 925.1 L1398.0 925.3 L1400.0 925.5 L1402.0 925.5 L1404.0 925.4 L1406.0 925.2 L1408.0 925.0 L1410.0 924.7 L1412.0 924.4 L1414.0 924.1 L1416.0 923.7 L1418.0 923.4 L1420.0 923.1 L1422.0 922.9 L1424.0 922.7 L1426.0 922.6 L1428.0 922.6 L1430.0 922.6 L1432.0 922.7 L1434.0 922.8 L1436.0 922.9 L1438.0 923.0 L1440.0 923.1 L1442.0 923.3 L1444.0 923.4 L1446.0 923.7 L1448.0 924.1 L1450.0 924.5 L1452.0 924.9 L1454.0 924.9 L1456.0 924.8 L1458.0 924.6 L1460.0 924.3 L1462.0 923.9 L1464.0 923.6 L1466.0 923.3 L1468.0 923.0 L1470.0 922.8 L1472.0 922.6 L1474.0 922.6 L1476.0 922.6 L1478.0 922.6 L1480.0 922.6 L1482.0 922.6 L1484.0 922.6 L1486.0 922.6 L1488.0 922.6 L1490.0 922.6 L1492.0 922.6 L1494.0 922.6 L1496.0 922.6 L1498.0 922.7 L1500.0 922.9 L1502.0 923.1 L1504.0 923.4 L1506.0 923.7 L1508.0 923.9 L1510.0 924.0 L1512.0 924.0 L1514.0 924.0 L1516.0 924.0 L1518.0 924.0 L1520.0 924.0 L1522.0 924.0 L1524.0 924.0 L1526.0 924.0 L1528.0 924.0 L1530.0 924.0 L1532.0 924.0 L1534.0 924.1 L1536.0 924.1 L1538.0 924.1 L1540.0 924.1 L1542.0 924.2 L1544.0 924.2 L1546.0 924.3 L1548.0 924.4 L1550.0 924.4 L1552.0 924.5 L1554.0 924.6 L1555.1 924.6" stroke="#1298EC" stroke-width="10.0"/>
<path d="M118.5 798.1 L120.5 798.2 L122.5 798.3 L124.5 798.5 L126.5 798.6 L128.5 798.7 L130.5 798.8 L132.5 798.9 L134.5 799.0 L136.5 799.2 L138.5 799.3 L140.5 799.4 L142.5 799.5 L144.5 799.6 L146.5 799.7 L148.5 799.8 L150.5 800.0 L152.5 800.1 L154.5 800.2 L156.5 800.4 L158.5 800.5 L160.5 800.6 L162.5 800.8 L164.5 800.9 L166.5 801.0 L168.5 801.1 L170.5 801.3 L172.5 801.4 L174.5 801.5 L176.5 801.6 L178.5 801.7 L180.5 801.8 L182.5 801.9 L184.5 801.9 L186.5 802.0 L188.5 802.1 L190.5 802.1 L192.5 802.1 L194.5 802.1 L196.5 802.2 L198.5 802.2 L200.5 802.2 L202.5 802.2 L204.5 802.2 L206.5 802.3 L208.5 802.3 L210.5 802.3 L212.5 802.3 L214.5 802.3 L216.5 802.3 L218.5 802.3 L220.5 802.4 L222.5 802.4 L224.5 802.4 L226.5 802.4 L228.5 802.4 L230.5 802.4 L232.5 802.4 L234.5 802.4 L236.5 802.4 L238.5 802.4 L240.5 802.4 L242.5 802.4 L244.5 802.3 L246.5 802.3 L248.5 802.2 L250.5 802.2 L252.5 802.1 L254.5 802.0 L256.5 801.9 L258.5 801.8 L260.5 801.6 L262.5 801.5 L264.5 801.4 L266.5 801.2 L268.5 801.0 L270.5 800.9 L272.5 800.7 L274.5 800.5 L276.5 800.3 L278.5 800.1 L280.5 799.9 L282.5 799.7 L284.5 799.5 L286.5 799.2 L288.5 798.7 L290.5 798.2 L292.5 797.6 L294.5 796.9 L296.5 796.2 L298.5 795.5 L300.5 794.8 L302.5 794.1 L304.5 793.4 L306.5 792.8 L308.5 792.2 L310.5 791.6 L312.5 791.0 L314.5 790.4 L316.5 789.8 L318.5 789.2 L320.5 788.6 L322.5 788.1 L324.5 787.6 L326.5 787.2 L328.5 786.8 L330.5 786.5 L332.5 786.3 L334.5 786.2 L336.5 786.0 L338.5 785.9 L340.5 785.8 L341.0 785.8 L341.5 785.7 L342.0 785.7 L342.5 785.7 L343.0 785.6 L343.5 785.6 L344.0 785.5 L344.5 785.5 L345.0 785.4 L345.5 785.4 L346.0 785.3 L346.5 785.3 L347.0 785.2 L347.5 785.1 L348.0 785.0 L348.5 784.9 L349.0 784.8 L349.5 784.7 L350.0 784.6 L350.5 784.4 L351.0 784.3 L351.5 784.1 L352.0 783.9 L352.5 783.8 L353.0 783.5 L353.5 783.3 L354.0 783.1 L354.5 782.9 L355.0 782.6 L355.5 782.3 L356.0 782.1 L356.5 781.8 L357.0 781.5 L357.5 781.2 L358.0 780.8 L358.5 780.5 L359.0 780.1 L359.5 779.7 L360.0 779.1 L360.5 778.5 L361.0 777.8 L361.5 777.1 L362.0 776.2 L362.5 775.3 L363.0 774.3 L363.5 773.3 L364.0 772.2 L364.5 771.0 L365.0 769.8 L365.5 768.6 L366.0 767.3 L366.5 765.9 L367.0 764.5 L367.5 763.1 L368.0 761.7 L368.5 760.2 L369.0 758.7 L369.5 757.1 L370.0 755.3 L370.5 753.3 L371.0 751.3 L371.5 749.1 L372.0 746.7 L372.5 744.3 L373.0 741.8 L373.5 739.1 L374.0 736.4 L374.5 733.6 L375.0 730.8 L375.5 727.8 L376.0 724.8 L376.5 721.8 L377.0 718.7 L377.5 715.6 L378.0 712.4 L378.5 709.0 L379.0 705.5 L379.5 701.9 L380.0 698.2 L380.5 694.3 L381.0 690.3 L381.5 686.2 L382.0 682.0 L382.5 677.7 L383.0 673.2 L383.5 668.7 L384.0 664.1 L384.5 659.3 L385.0 654.5 L385.5 649.6 L386.0 644.5 L386.5 639.5 L387.0 634.5 L387.5 629.4 L388.0 624.2 L388.5 618.7 L389.0 613.0 L389.5 606.9 L390.0 600.3 L390.5 593.3 L391.0 585.6 L391.5 577.2 L392.0 567.7 L392.5 554.7 L393.0 539.2 L393.5 522.4 L394.0 505.7 L394.5 490.3 L395.0 477.7 L395.5 467.1 L396.0 457.4 L396.5 448.5 L397.0 440.0 L397.5 431.6 L398.0 423.0 L398.5 414.0 L399.0 404.2 L399.5 393.3 L400.0 381.3 L400.5 368.6 L401.0 355.5 L401.5 342.4 L402.0 329.7 L402.5 317.7 L403.0 305.8 L403.5 293.9 L404.0 282.0 L404.5 270.3 L405.0 258.8 L405.5 247.7 L406.0 237.0 L406.5 227.0 L407.0 217.6 L407.5 209.0 L408.0 200.9 L408.5 192.9 L409.0 185.4 L409.5 178.4 L410.0 172.1 L410.5 166.7 L411.0 162.2 L411.5 158.3 L412.0 154.9 L412.5 151.7 L413.0 148.8 L413.5 146.2 L414.0 143.7 L414.5 141.3 L415.0 139.0 L415.5 136.5 L416.0 134.0 L416.5 131.7 L417.0 129.9 L417.5 128.9 L418.0 129.0 L418.5 130.1 L419.0 131.9 L419.5 134.3 L420.0 136.9 L420.5 139.5 L421.0 142.3 L421.5 145.6 L422.0 149.4 L422.5 153.5 L423.0 157.7 L423.5 162.1 L424.0 166.6 L424.5 171.1 L425.0 175.8 L425.5 180.7 L426.0 185.9 L426.5 191.4 L427.0 197.4 L427.5 203.8 L428.0 210.7 L428.5 218.6 L429.0 227.6 L429.5 237.7 L430.0 248.5 L430.5 260.0 L431.0 271.9 L431.5 284.1 L432.0 296.2 L432.5 308.3 L433.0 320.0 L433.5 332.0 L434.0 344.9 L434.5 358.0 L435.0 370.9 L435.5 382.9 L436.0 393.8 L436.5 402.8 L437.0 410.8 L437.5 418.0 L438.0 424.7 L438.5 431.0 L439.0 437.1 L439.5 443.1 L440.0 449.2 L440.5 455.6 L441.0 462.3 L441.5 469.1 L442.0 476.1 L442.5 483.0 L443.0 490.0 L443.5 496.7 L444.0 503.3 L444.5 509.6 L445.0 515.5 L445.5 521.2 L446.0 526.9 L446.5 532.4 L447.0 537.9 L447.5 543.2 L448.0 548.4 L448.5 553.4 L449.0 558.1 L449.5 562.7 L450.0 567.0 L450.5 570.9 L451.0 574.7 L451.5 578.4 L452.0 582.2 L452.5 585.7 L453.0 589.1 L453.5 592.1 L454.0 594.7 L454.5 596.8 L455.0 598.4 L455.5 599.5 L456.0 600.6 L456.5 601.5 L457.0 602.2 L457.5 602.6 L458.0 602.7 L458.5 602.6 L459.0 602.4 L459.5 602.0 L460.0 601.5 L460.5 600.9 L461.0 600.2 L461.5 599.5 L462.0 598.7 L462.5 597.9 L463.0 596.8 L463.5 595.3 L464.0 593.6 L464.5 591.7 L465.0 589.5 L465.5 587.2 L466.0 584.7 L466.5 582.1 L467.0 579.4 L467.5 576.8 L468.0 574.1 L468.5 571.4 L469.0 568.8 L469.5 566.3 L470.0 563.7 L470.5 561.0 L471.0 558.2 L471.5 555.2 L472.0 552.2 L472.5 549.2 L473.0 546.2 L473.5 543.1 L474.0 540.2 L474.5 537.3 L475.0 534.5 L475.5 531.8 L476.0 529.3 L476.5 526.9 L477.0 524.8 L477.5 522.7 L478.0 520.6 L478.5 518.6 L479.0 516.7 L479.5 514.8 L480.0 513.0 L482.0 506.2 L484.0 500.0 L486.0 494.0 L488.0 488.4 L490.0 483.4 L492.0 479.7 L494.0 476.9 L496.0 474.5 L498.0 472.7 L500.0 471.9 L502.0 472.8 L504.0 475.3 L506.0 478.9 L508.0 482.9 L510.0 487.7 L512.0 494.0 L514.0 501.2 L516.0 508.6 L518.0 516.6 L520.0 525.2 L522.0 534.3 L524.0 543.6 L526.0 553.2 L528.0 563.2 L530.0 573.4 L532.0 583.6 L534.0 593.6 L536.0 603.9 L538.0 614.0 L540.0 623.9 L542.0 633.3 L544.0 642.6 L546.0 651.7 L548.0 660.1 L550.0 667.7 L552.0 674.8 L554.0 681.5 L556.0 687.4 L558.0 692.2 L560.0 695.7 L562.0 698.4 L564.0 700.8 L566.0 703.2 L568.0 706.1 L570.0 709.2 L572.0 712.5 L574.0 716.0 L576.0 719.6 L578.0 723.5 L580.0 727.7 L582.0 731.9 L584.0 735.7 L586.0 739.1 L588.0 742.4 L590.0 745.6 L592.0 748.6 L594.0 751.3 L596.0 753.8 L598.0 755.9 L600.0 757.5 L602.0 759.0 L604.0 760.3 L606.0 761.5 L608.0 762.5 L610.0 763.6 L612.0 764.6 L614.0 765.6 L616.0 766.6 L618.0 767.7 L620.0 768.7 L622.0 769.7 L624.0 770.7 L626.0 771.7 L628.0 772.7 L630.0 773.6 L632.0 774.6 L634.0 775.6 L636.0 776.7 L638.0 777.9 L640.0 779.2 L642.0 780.4 L644.0 781.6 L646.0 782.7 L648.0 783.7 L650.0 784.5 L652.0 785.1 L654.0 785.4 L656.0 785.6 L658.0 785.9 L660.0 786.1 L662.0 786.2 L664.0 786.4 L666.0 786.5 L668.0 786.6 L670.0 786.7 L672.0 786.8 L674.0 786.8 L676.0 786.8 L678.0 786.8 L680.0 786.8 L682.0 786.8 L684.0 786.8 L686.0 786.8 L688.0 786.8 L690.0 786.8 L692.0 786.8 L694.0 786.8 L696.0 786.8 L698.0 786.8 L700.0 786.8 L702.0 786.8 L704.0 786.8 L706.0 786.9 L708.0 787.0 L710.0 787.1 L712.0 787.2 L714.0 787.4 L716.0 787.6 L718.0 787.7 L720.0 787.9 L722.0 788.2 L724.0 788.5 L726.0 789.2 L728.0 790.1 L730.0 791.1 L732.0 792.0 L734.0 792.8 L736.0 793.2 L738.0 793.4 L740.0 793.6 L742.0 793.8 L744.0 794.0 L746.0 794.1 L748.0 794.3 L750.0 794.4 L752.0 794.5 L754.0 794.6 L756.0 794.6 L758.0 794.6 L760.0 794.6 L762.0 794.6 L764.0 794.5 L766.0 794.3 L768.0 794.2 L770.0 794.0 L772.0 793.9 L774.0 793.8 L776.0 793.8 L778.0 793.8 L780.0 794.0 L782.0 794.2 L784.0 794.5 L786.0 794.9 L788.0 795.2 L790.0 795.5 L792.0 795.8 L794.0 796.0 L796.0 796.1 L798.0 796.0 L800.0 795.9 L802.0 795.7 L804.0 795.4 L806.0 795.1 L808.0 794.8 L810.0 794.5 L812.0 794.3 L814.0 794.0 L816.0 793.8 L818.0 793.6 L820.0 793.4 L822.0 793.2 L824.0 793.0 L826.0 792.8 L828.0 792.7 L830.0 792.6 L832.0 792.7 L834.0 793.2 L836.0 793.8 L838.0 794.4 L840.0 794.6 L842.0 794.6 L844.0 794.6 L846.0 794.6 L848.0 794.5 L850.0 794.2 L852.0 793.9 L854.0 793.5 L856.0 793.3 L858.0 793.2 L860.0 793.1 L862.0 793.0 L864.0 792.9 L866.0 792.8 L868.0 792.8 L870.0 792.7 L872.0 792.7 L874.0 792.6 L876.0 792.6 L878.0 792.6 L880.0 792.7 L882.0 792.9 L884.0 793.1 L886.0 793.4 L888.0 793.8 L890.0 794.1 L892.0 794.4 L894.0 794.7 L896.0 795.0 L898.0 795.1 L900.0 795.2 L902.0 795.2 L904.0 795.2 L906.0 795.1 L908.0 795.0 L910.0 794.9 L912.0 794.8 L914.0 794.6 L916.0 794.5 L918.0 794.3 L920.0 794.2 L922.0 794.0 L924.0 793.9 L926.0 793.8 L928.0 793.7 L930.0 793.5 L932.0 793.4 L934.0 793.3 L936.0 793.1 L938.0 792.9 L940.0 792.8 L942.0 792.6 L944.0 792.5 L946.0 792.3 L948.0 792.2 L950.0 792.1 L952.0 792.0 L954.0 791.9 L956.0 791.8 L958.0 791.8 L960.0 791.8 L962.0 791.8 L964.0 791.8 L966.0 791.8 L968.0 791.8 L970.0 791.9 L972.0 791.9 L974.0 792.0 L976.0 792.0 L978.0 792.1 L980.0 792.2 L982.0 792.3 L984.0 792.3 L986.0 792.5 L988.0 792.7 L990.0 792.9 L992.0 793.1 L994.0 793.4 L996.0 793.7 L998.0 794.0 L1000.0 794.2 L1002.0 794.4 L1004.0 794.6 L1006.0 794.6 L1008.0 794.6 L1010.0 794.6 L1012.0 794.6 L1014.0 794.5 L1016.0 794.4 L1018.0 794.3 L1020.0 794.3 L1022.0 794.2 L1024.0 794.1 L1026.0 793.9 L1028.0 793.7 L1030.0 793.5 L1032.0 793.3 L1034.0 793.0 L1036.0 792.7 L1038.0 792.4 L1040.0 792.2 L1042.0 792.0 L1044.0 791.9 L1046.0 791.8 L1048.0 791.8 L1050.0 791.8 L1052.0 791.9 L1054.0 792.1 L1056.0 792.3 L1058.0 792.5 L1060.0 792.7 L1062.0 792.9 L1064.0 793.2 L1066.0 793.5 L1068.0 794.0 L1070.0 794.5 L1072.0 795.0 L1074.0 795.4 L1076.0 795.5 L1078.0 795.4 L1080.0 795.1 L1082.0 794.7 L1084.0 794.3 L1086.0 794.0 L1088.0 793.7 L1090.0 793.5 L1092.0 793.2 L1094.0 793.0 L1096.0 792.7 L1098.0 792.5 L1100.0 792.3 L1102.0 792.1 L1104.0 792.0 L1106.0 791.9 L1108.0 791.8 L1110.0 791.8 L1112.0 791.8 L1114.0 791.9 L1116.0 792.1 L1118.0 792.4 L1120.0 792.6 L1122.0 792.8 L1124.0 793.0 L1126.0 793.2 L1128.0 793.2 L1130.0 793.2 L1132.0 793.2 L1134.0 793.2 L1136.0 793.2 L1138.0 793.2 L1140.0 793.2 L1142.0 793.2 L1144.0 793.2 L1146.0 793.2 L1148.0 793.2 L1150.0 793.2 L1152.0 793.2 L1154.0 793.4 L1156.0 793.7 L1158.0 794.0 L1160.0 794.2 L1162.0 794.5 L1164.0 794.6 L1166.0 794.6 L1168.0 794.6 L1170.0 794.5 L1172.0 794.5 L1174.0 794.4 L1176.0 794.3 L1178.0 794.1 L1180.0 794.0 L1182.0 793.7 L1184.0 793.4 L1186.0 792.9 L1188.0 792.5 L1190.0 792.1 L1192.0 791.8 L1194.0 791.8 L1196.0 791.8 L1198.0 791.8 L1200.0 791.8 L1202.0 791.8 L1204.0 791.8 L1206.0 791.8 L1208.0 791.8 L1210.0 791.9 L1212.0 791.9 L1214.0 792.0 L1216.0 792.0 L1218.0 792.1 L1220.0 792.2 L1222.0 792.3 L1224.0 792.4 L1226.0 792.5 L1228.0 792.6 L1230.0 792.8 L1232.0 793.4 L1234.0 794.2 L1236.0 795.1 L1238.0 795.7 L1240.0 796.1 L1242.0 796.0 L1244.0 795.7 L1246.0 795.4 L1248.0 795.0 L1250.0 794.6 L1252.0 794.2 L1254.0 794.1 L1256.0 794.1 L1258.0 794.4 L1260.0 794.7 L1262.0 795.1 L1264.0 795.4 L1266.0 795.5 L1268.0 795.5 L1270.0 795.3 L1272.0 795.1 L1274.0 794.9 L1276.0 794.6 L1278.0 794.4 L1280.0 794.2 L1282.0 794.1 L1284.0 794.1 L1286.0 794.1 L1288.0 794.1 L1290.0 794.1 L1292.0 794.1 L1294.0 794.1 L1296.0 794.1 L1298.0 794.1 L1300.0 794.1 L1302.0 794.1 L1304.0 794.1 L1306.0 794.1 L1308.0 794.1 L1310.0 794.1 L1312.0 794.1 L1314.0 794.1 L1316.0 794.1 L1318.0 794.1 L1320.0 794.1 L1322.0 794.1 L1324.0 794.0 L1326.0 794.0 L1328.0 794.0 L1330.0 793.9 L1332.0 793.9 L1334.0 793.8 L1336.0 793.7 L1338.0 793.7 L1340.0 793.6 L1342.0 793.5 L1344.0 793.5 L1346.0 793.4 L1348.0 793.4 L1350.0 793.3 L1352.0 793.3 L1354.0 793.2 L1356.0 793.2 L1358.0 793.2 L1360.0 793.2 L1362.0 793.2 L1364.0 793.3 L1366.0 793.4 L1368.0 793.4 L1370.0 793.5 L1372.0 793.6 L1374.0 793.8 L1376.0 793.9 L1378.0 794.0 L1380.0 794.3 L1382.0 794.6 L1384.0 795.1 L1386.0 795.7 L1388.0 796.2 L1390.0 796.8 L1392.0 797.2 L1394.0 797.4 L1396.0 797.5 L1398.0 797.4 L1400.0 797.2 L1402.0 796.9 L1404.0 796.6 L1406.0 796.3 L1408.0 796.1 L1410.0 796.1 L1412.0 796.2 L1414.0 796.4 L1416.0 796.6 L1418.0 796.9 L1420.0 797.2 L1422.0 797.4 L1424.0 797.5 L1426.0 797.5 L1428.0 797.2 L1430.0 796.9 L1432.0 796.5 L1434.0 796.1 L1436.0 795.7 L1438.0 795.3 L1440.0 795.0 L1442.0 794.6 L1444.0 794.3 L1446.0 793.9 L1448.0 793.6 L1450.0 793.4 L1452.0 793.2 L1454.0 793.2 L1456.0 793.2 L1458.0 793.3 L1460.0 793.3 L1462.0 793.4 L1464.0 793.5 L1466.0 793.5 L1468.0 793.6 L1470.0 793.7 L1472.0 793.7 L1474.0 793.8 L1476.0 793.8 L1478.0 793.7 L1480.0 793.7 L1482.0 793.5 L1484.0 793.4 L1486.0 793.2 L1488.0 793.0 L1490.0 792.8 L1492.0 792.7 L1494.0 792.6 L1496.0 792.5 L1498.0 792.4 L1500.0 792.2 L1502.0 792.1 L1504.0 792.0 L1506.0 791.9 L1508.0 791.9 L1510.0 791.8 L1512.0 791.8 L1514.0 791.8 L1516.0 791.8 L1518.0 791.9 L1520.0 792.1 L1522.0 792.3 L1524.0 792.5 L1526.0 792.8 L1528.0 793.0 L1530.0 793.1 L1532.0 793.3 L1534.0 793.4 L1536.0 793.6 L1538.0 793.7 L1540.0 793.8 L1542.0 793.9 L1544.0 794.1 L1546.0 794.2 L1548.0 794.3 L1550.0 794.4 L1552.0 794.5 L1554.0 794.6 L1555.1 794.6" stroke="#AA46B4" stroke-width="10.0"/>
</g>
<rect x="351.20" y="104.0" width="120.90" height="1058.5" fill="#FFC38A" fill-opacity="0.3" stroke="none"/><path d="M348.35 104.0 L471.8 104.0 L471.8 1165.65" fill="none" stroke="#000" stroke-opacity="0.3" stroke-width="6.3" stroke-dasharray="15 10.54"/><path d="M351.5 110.10 L351.5 1162.5 L474.95 1162.5" fill="none" stroke="#000" stroke-opacity="0.3" stroke-width="6.3" stroke-dasharray="15 10.52" stroke-dashoffset="9.25"/>
<rect x="478.70" y="372.0" width="87.10" height="773.4000000000001" fill="#C0E4FC" fill-opacity="0.3" stroke="none"/><path d="M475.85 372.0 L565.5 372.0 L565.5 1148.55" fill="none" stroke="#000" stroke-opacity="0.3" stroke-width="6.3" stroke-dasharray="15 10.53"/><path d="M479.0 368.85 L479.0 1145.4 L568.65 1145.4" fill="none" stroke="#000" stroke-opacity="0.3" stroke-width="6.3" stroke-dasharray="15 10.56" stroke-dashoffset="0"/>
<rect x="855.80" y="636.1" width="161.60" height="512.8000000000001" fill="#C0E4FC" fill-opacity="0.3" stroke="none"/><path d="M852.95 636.1 L1017.1 636.1 L1017.1 1152.05" fill="none" stroke="#000" stroke-opacity="0.3" stroke-width="6.3" stroke-dasharray="15 10.52"/><path d="M856.1 632.95 L856.1 1148.9 L1020.25 1148.9" fill="none" stroke="#000" stroke-opacity="0.3" stroke-width="6.3" stroke-dasharray="15 10.60" stroke-dashoffset="14.7"/>
<text class="t" x="329.21" y="1246.6" textLength="96.56" lengthAdjust="spacing">400</text>
<text class="t" x="622.55" y="1246.6" textLength="97.35" lengthAdjust="spacing">800</text>
<text class="t" x="899.28" y="1246.6" textLength="132.17" lengthAdjust="spacing">1200</text>
<text class="t" x="1193.42" y="1246.6" textLength="132.13" lengthAdjust="spacing">1600</text>
<text class="t" x="1488.05" y="1246.6" textLength="131.84" lengthAdjust="spacing">2000</text>
<text class="l" x="548.12" y="1369" textLength="577.25" lengthAdjust="spacing">Raman shift (cm<tspan class="su" dy="-28.5">−1</tspan><tspan dy="28.5">)</tspan></text>
<text class="l" transform="translate(66 814.39) rotate(-90)" x="0" y="0" textLength="444.96" lengthAdjust="spacing">Intensity (a.u.)</text>
<text class="a" x="378.6" y="81.8">F<tspan class="sa" dx="-2.5" dy="18.1">2g</tspan></text>
<text class="a" x="501" y="327.7">D<tspan class="sa" dx="-1.5" dy="18.1">1</tspan></text>
<text class="a" x="905" y="716.9">D<tspan class="sa" dx="-1.5" dy="17.3">2</tspan></text>
<line x1="895.1" y1="64.47" x2="1056.9" y2="64.47" stroke="#D92624" stroke-width="8.83"/>
<text class="l" x="1073.36" y="88.0" textLength="360.29" lengthAdjust="spacing">CeO<tspan class="s" dy="19">2</tspan><tspan dy="-19">−A500</tspan></text>
<line x1="895.1" y1="167.88" x2="1056.9" y2="167.88" stroke="#FF7F04" stroke-width="8.83"/>
<text class="l" x="1074.51" y="191.4" textLength="361.40" lengthAdjust="spacing">Ag/CeO<tspan class="s" dy="19">2</tspan><tspan dy="-19">−C</tspan></text>
<line x1="895.1" y1="271.29" x2="1056.9" y2="271.29" stroke="#344C98" stroke-width="8.83"/>
<text class="l" x="1074.51" y="294.8" textLength="465.91" lengthAdjust="spacing">Ag/CeO<tspan class="s" dy="19">2</tspan><tspan dy="-19">−A300</tspan></text>
<line x1="895.1" y1="374.70" x2="1056.9" y2="374.70" stroke="#1298EC" stroke-width="8.83"/>
<text class="l" x="1074.51" y="398.2" textLength="465.91" lengthAdjust="spacing">Ag/CeO<tspan class="s" dy="19">2</tspan><tspan dy="-19">−A500</tspan></text>
<line x1="895.1" y1="478.11" x2="1056.9" y2="478.11" stroke="#0AA08E" stroke-width="8.83"/>
<text class="l" x="1074.51" y="501.6" textLength="465.91" lengthAdjust="spacing">Ag/CeO<tspan class="s" dy="19">2</tspan><tspan dy="-19">−N300</tspan></text>
<line x1="895.1" y1="581.52" x2="1056.9" y2="581.52" stroke="#AA46B4" stroke-width="8.83"/>
<text class="l" x="1074.51" y="605.0" textLength="465.91" lengthAdjust="spacing">Ag/CeO<tspan class="s" dy="19">2</tspan><tspan dy="-19">−N500</tspan></text>
</svg></body></html>
